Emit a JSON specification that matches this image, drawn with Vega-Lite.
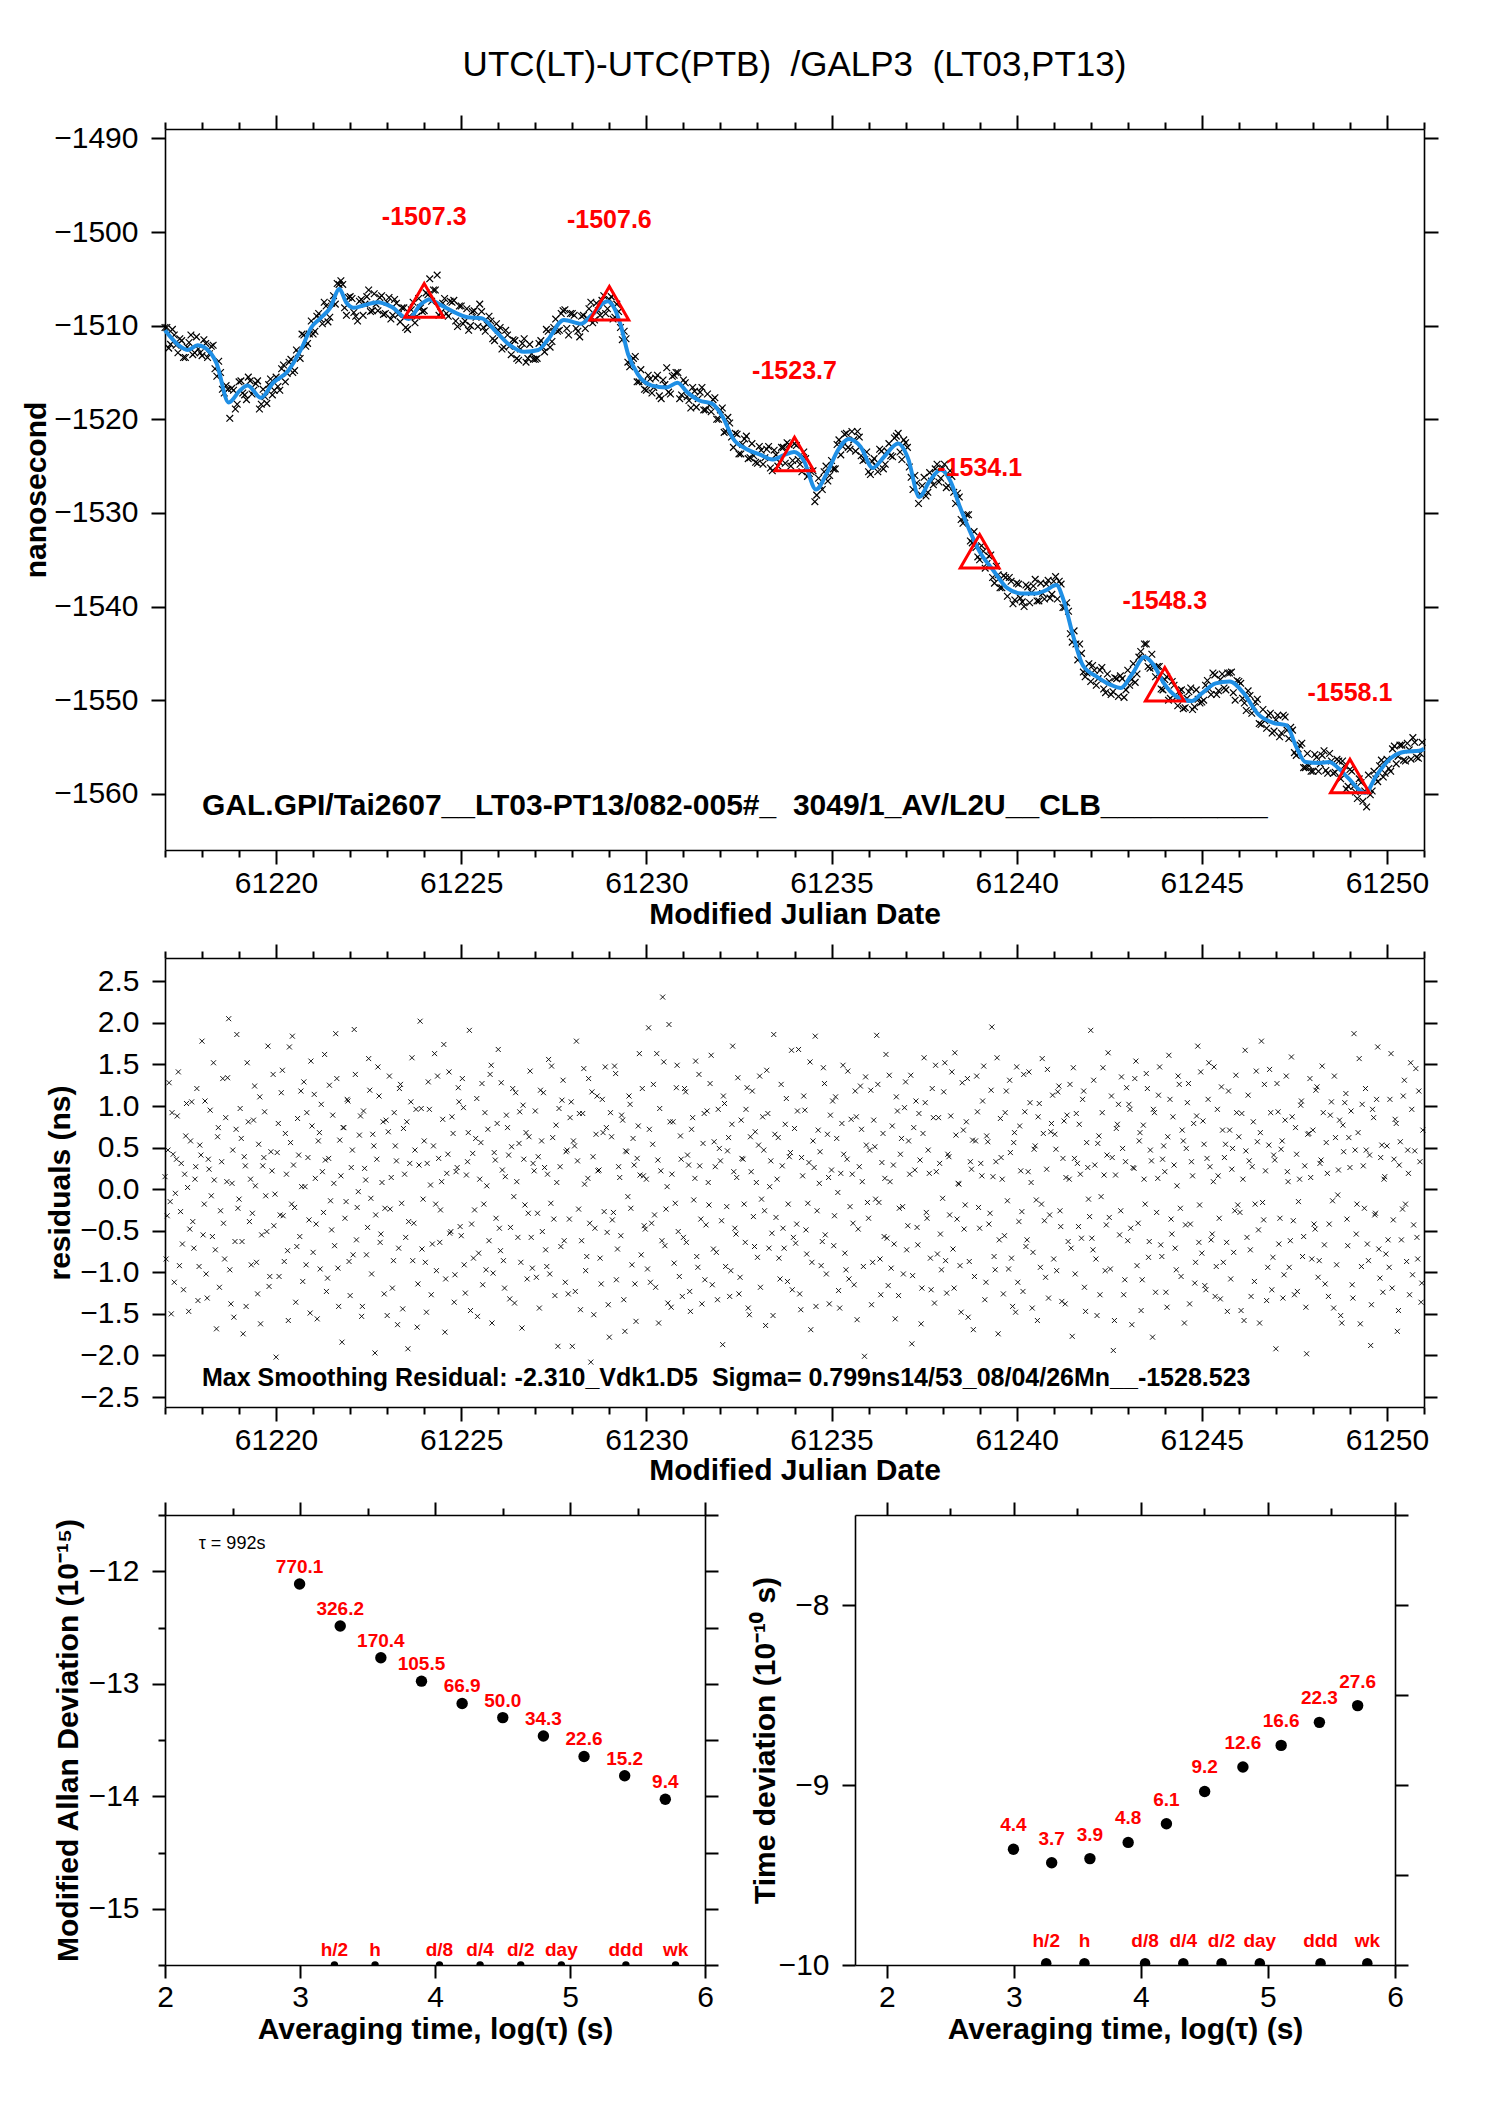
{
  "$schema": "https://vega.github.io/schema/vega-lite/v6.json",
  "background": "white",
  "padding": {"left": 21, "top": 48, "right": 10, "bottom": 10},
  "bounds": "flush",
  "spacing": 108,
  "config": {
    "font": "Liberation Sans",
    "view": {"stroke": null},
    "axis": {
      "grid": false,
      "domainColor": "#000",
      "domainWidth": 1.6,
      "tickColor": "#000",
      "tickWidth": 2,
      "labelFont": "Liberation Sans",
      "labelFontSize": 30,
      "labelColor": "#000",
      "labelFlush": false,
      "labelOverlap": false,
      "titleFont": "Liberation Sans",
      "titleFontSize": 30,
      "titleFontWeight": "bold",
      "titleColor": "#000"
    }
  },
  "datasets": {
    "smooth": [
      {"t":61217.0,"v":-1510.5},{"t":61217.37,"v":-1512.1},{"t":61217.62,"v":-1512.6},{"t":61217.88,"v":-1512.1},{"t":61218.06,"v":-1512.3},{"t":61218.39,"v":-1514.0},{"t":61218.72,"v":-1518.2},{"t":61219.03,"v":-1516.9},{"t":61219.23,"v":-1516.4},{"t":61219.59,"v":-1517.7},{"t":61219.92,"v":-1516.1},{"t":61220.31,"v":-1514.9},{"t":61220.69,"v":-1512.4},{"t":61220.95,"v":-1510.2},{"t":61221.2,"v":-1509.2},{"t":61221.46,"v":-1508.1},{"t":61221.71,"v":-1506.1},{"t":61221.89,"v":-1507.5},{"t":61222.1,"v":-1508.1},{"t":61222.4,"v":-1507.8},{"t":61222.74,"v":-1507.5},{"t":61223.12,"v":-1508.0},{"t":61223.58,"v":-1509.3},{"t":61223.89,"v":-1507.8},{"t":61224.14,"v":-1507.2},{"t":61224.4,"v":-1507.7},{"t":61224.78,"v":-1508.5},{"t":61225.17,"v":-1509.1},{"t":61225.55,"v":-1509.2},{"t":61225.93,"v":-1510.6},{"t":61226.32,"v":-1512.1},{"t":61226.7,"v":-1512.8},{"t":61227.08,"v":-1512.6},{"t":61227.34,"v":-1511.5},{"t":61227.77,"v":-1509.4},{"t":61228.24,"v":-1509.8},{"t":61228.54,"v":-1508.8},{"t":61228.95,"v":-1507.4},{"t":61229.13,"v":-1508.1},{"t":61229.31,"v":-1510.0},{"t":61229.51,"v":-1513.1},{"t":61229.77,"v":-1515.2},{"t":61230.15,"v":-1516.4},{"t":61230.54,"v":-1516.6},{"t":61230.84,"v":-1516.1},{"t":61231.1,"v":-1517.1},{"t":61231.43,"v":-1518.0},{"t":61231.76,"v":-1518.3},{"t":61232.07,"v":-1519.8},{"t":61232.33,"v":-1522.0},{"t":61232.71,"v":-1523.2},{"t":61233.09,"v":-1523.8},{"t":61233.4,"v":-1524.3},{"t":61233.73,"v":-1523.8},{"t":61233.99,"v":-1523.5},{"t":61234.25,"v":-1524.4},{"t":61234.58,"v":-1527.5},{"t":61234.88,"v":-1525.7},{"t":61235.19,"v":-1523.2},{"t":61235.47,"v":-1522.1},{"t":61235.78,"v":-1522.9},{"t":61236.11,"v":-1525.2},{"t":61236.42,"v":-1524.0},{"t":61236.8,"v":-1522.6},{"t":61237.06,"v":-1524.1},{"t":61237.37,"v":-1528.3},{"t":61237.65,"v":-1526.6},{"t":61237.95,"v":-1525.4},{"t":61238.21,"v":-1526.6},{"t":61238.47,"v":-1529.4},{"t":61238.72,"v":-1531.8},{"t":61238.98,"v":-1534.0},{"t":61239.36,"v":-1536.1},{"t":61239.74,"v":-1538.0},{"t":61240.13,"v":-1538.6},{"t":61240.51,"v":-1538.6},{"t":61240.77,"v":-1538.3},{"t":61241.07,"v":-1537.7},{"t":61241.28,"v":-1539.5},{"t":61241.53,"v":-1543.2},{"t":61241.79,"v":-1546.3},{"t":61242.17,"v":-1547.5},{"t":61242.56,"v":-1548.4},{"t":61242.81,"v":-1548.7},{"t":61243.12,"v":-1547.2},{"t":61243.45,"v":-1545.4},{"t":61243.71,"v":-1546.3},{"t":61243.96,"v":-1548.1},{"t":61244.35,"v":-1549.7},{"t":61244.73,"v":-1550.1},{"t":61244.99,"v":-1549.3},{"t":61245.37,"v":-1548.2},{"t":61245.75,"v":-1548.0},{"t":61246.14,"v":-1549.3},{"t":61246.52,"v":-1551.5},{"t":61246.91,"v":-1552.4},{"t":61247.29,"v":-1552.7},{"t":61247.54,"v":-1554.9},{"t":61247.8,"v":-1556.6},{"t":61248.18,"v":-1556.7},{"t":61248.44,"v":-1556.6},{"t":61248.7,"v":-1557.3},{"t":61248.95,"v":-1558.3},{"t":61249.41,"v":-1559.9},{"t":61249.72,"v":-1558.0},{"t":61250.1,"v":-1556.2},{"t":61250.49,"v":-1555.5},{"t":61250.87,"v":-1555.4},{"t":61251.0,"v":-1555.2}
    ],
    "raw": [
      {"t":61217.05,"v":-1510.2},{"t":61217.15,"v":-1512.0},{"t":61217.25,"v":-1511.0},{"t":61217.35,"v":-1512.9},{"t":61217.45,"v":-1511.6},{"t":61217.55,"v":-1513.4},{"t":61217.65,"v":-1511.8},{"t":61217.75,"v":-1513.1},{"t":61217.85,"v":-1511.2},{"t":61217.95,"v":-1512.9},
      {"t":61218.05,"v":-1511.5},{"t":61218.15,"v":-1513.4},{"t":61218.25,"v":-1512.2},{"t":61218.35,"v":-1514.6},{"t":61218.45,"v":-1513.8},{"t":61218.55,"v":-1516.8},{"t":61218.65,"v":-1516.4},{"t":61218.75,"v":-1519.9},{"t":61218.85,"v":-1516.9},{"t":61218.95,"v":-1518.4},
      {"t":61219.05,"v":-1515.9},{"t":61219.15,"v":-1517.4},{"t":61219.25,"v":-1515.5},{"t":61219.35,"v":-1517.3},{"t":61219.45,"v":-1516.2},{"t":61219.55,"v":-1518.9},{"t":61219.65,"v":-1516.8},{"t":61219.75,"v":-1518.3},{"t":61219.85,"v":-1515.7},{"t":61219.95,"v":-1516.9},
      {"t":61220.05,"v":-1516.5},{"t":61220.15,"v":-1514.6},{"t":61220.25,"v":-1516.0},{"t":61220.35,"v":-1513.9},{"t":61220.45,"v":-1515.0},{"t":61220.55,"v":-1512.6},{"t":61220.65,"v":-1513.5},{"t":61220.75,"v":-1511.0},{"t":61220.85,"v":-1511.9},{"t":61220.95,"v":-1509.5},
      {"t":61221.05,"v":-1510.6},{"t":61221.15,"v":-1508.7},{"t":61221.25,"v":-1509.8},{"t":61221.35,"v":-1507.9},{"t":61221.45,"v":-1509.1},{"t":61221.55,"v":-1506.8},{"t":61221.65,"v":-1505.5},{"t":61221.75,"v":-1505.2},{"t":61221.85,"v":-1508.1},{"t":61221.95,"v":-1507.0},
      {"t":61222.05,"v":-1507.1},{"t":61222.15,"v":-1509.0},{"t":61222.25,"v":-1507.4},{"t":61222.35,"v":-1508.9},{"t":61222.45,"v":-1506.9},{"t":61222.55,"v":-1508.5},{"t":61222.65,"v":-1506.6},{"t":61222.75,"v":-1508.4},{"t":61222.85,"v":-1506.8},{"t":61222.95,"v":-1508.7},
      {"t":61223.05,"v":-1507.0},{"t":61223.15,"v":-1508.9},{"t":61223.25,"v":-1507.6},{"t":61223.35,"v":-1509.6},{"t":61223.45,"v":-1508.1},{"t":61223.55,"v":-1510.4},{"t":61223.65,"v":-1508.3},{"t":61223.75,"v":-1509.7},{"t":61223.85,"v":-1507.1},{"t":61223.95,"v":-1508.5},
      {"t":61224.05,"v":-1506.5},{"t":61224.15,"v":-1505.0},{"t":61224.25,"v":-1506.2},{"t":61224.35,"v":-1504.6},{"t":61224.45,"v":-1508.6},{"t":61224.55,"v":-1507.1},{"t":61224.65,"v":-1509.0},{"t":61224.75,"v":-1507.5},{"t":61224.85,"v":-1509.5},{"t":61224.95,"v":-1507.9},
      {"t":61225.05,"v":-1509.8},{"t":61225.15,"v":-1508.2},{"t":61225.25,"v":-1510.0},{"t":61225.35,"v":-1508.4},{"t":61225.45,"v":-1510.1},{"t":61225.55,"v":-1508.5},{"t":61225.65,"v":-1510.6},{"t":61225.75,"v":-1509.0},{"t":61225.85,"v":-1511.4},{"t":61225.95,"v":-1509.8},
      {"t":61226.05,"v":-1510.2},{"t":61226.15,"v":-1512.3},{"t":61226.25,"v":-1511.0},{"t":61226.35,"v":-1513.1},{"t":61226.45,"v":-1511.6},{"t":61226.55,"v":-1513.7},{"t":61226.65,"v":-1511.9},{"t":61226.75,"v":-1513.9},{"t":61226.85,"v":-1512.0},{"t":61226.95,"v":-1513.6},
      {"t":61227.05,"v":-1513.5},{"t":61227.15,"v":-1511.6},{"t":61227.25,"v":-1512.8},{"t":61227.35,"v":-1510.6},{"t":61227.45,"v":-1511.7},{"t":61227.55,"v":-1509.3},{"t":61227.65,"v":-1510.5},{"t":61227.75,"v":-1508.4},{"t":61227.85,"v":-1510.3},{"t":61227.95,"v":-1508.7},
      {"t":61228.05,"v":-1508.9},{"t":61228.15,"v":-1510.6},{"t":61228.25,"v":-1509.0},{"t":61228.35,"v":-1510.3},{"t":61228.45,"v":-1508.2},{"t":61228.55,"v":-1509.7},{"t":61228.65,"v":-1507.6},{"t":61228.75,"v":-1508.9},{"t":61228.85,"v":-1506.8},{"t":61228.95,"v":-1508.2},
      {"t":61229.05,"v":-1506.9},{"t":61229.15,"v":-1509.1},{"t":61229.25,"v":-1508.5},{"t":61229.35,"v":-1511.5},{"t":61229.45,"v":-1511.4},{"t":61229.55,"v":-1514.4},{"t":61229.65,"v":-1513.5},{"t":61229.75,"v":-1516.0},{"t":61229.85,"v":-1514.7},{"t":61229.95,"v":-1516.8},
      {"t":61230.05,"v":-1515.3},{"t":61230.15,"v":-1517.2},{"t":61230.25,"v":-1515.6},{"t":61230.35,"v":-1517.5},{"t":61230.45,"v":-1515.8},{"t":61230.55,"v":-1514.5},{"t":61230.65,"v":-1517.3},{"t":61230.75,"v":-1515.3},{"t":61230.85,"v":-1515.0},{"t":61230.95,"v":-1517.4},
      {"t":61231.05,"v":-1516.1},{"t":61231.15,"v":-1518.0},{"t":61231.25,"v":-1516.6},{"t":61231.35,"v":-1518.7},{"t":61231.45,"v":-1517.1},{"t":61231.55,"v":-1519.0},{"t":61231.65,"v":-1517.3},{"t":61231.75,"v":-1519.2},{"t":61231.85,"v":-1517.7},{"t":61231.95,"v":-1520.0},
      {"t":61232.05,"v":-1518.8},{"t":61232.15,"v":-1521.3},{"t":61232.25,"v":-1520.4},{"t":61232.35,"v":-1523.0},{"t":61232.45,"v":-1521.6},{"t":61232.55,"v":-1523.7},{"t":61232.65,"v":-1522.1},{"t":61232.75,"v":-1524.2},{"t":61232.85,"v":-1522.6},{"t":61232.95,"v":-1524.6},
      {"t":61233.05,"v":-1522.9},{"t":61233.15,"v":-1524.8},{"t":61233.25,"v":-1523.2},{"t":61233.35,"v":-1525.2},{"t":61233.45,"v":-1523.3},{"t":61233.55,"v":-1525.0},{"t":61233.65,"v":-1523.0},{"t":61233.75,"v":-1524.7},{"t":61233.85,"v":-1522.7},{"t":61233.95,"v":-1524.4},
      {"t":61234.05,"v":-1522.8},{"t":61234.15,"v":-1524.8},{"t":61234.25,"v":-1523.5},{"t":61234.35,"v":-1526.1},{"t":61234.45,"v":-1525.6},{"t":61234.55,"v":-1528.8},{"t":61234.65,"v":-1526.3},{"t":61234.75,"v":-1527.5},{"t":61234.85,"v":-1525.0},{"t":61234.95,"v":-1526.0},
      {"t":61235.05,"v":-1525.3},{"t":61235.15,"v":-1522.7},{"t":61235.25,"v":-1523.8},{"t":61235.35,"v":-1521.6},{"t":61235.45,"v":-1523.0},{"t":61235.55,"v":-1521.3},{"t":61235.65,"v":-1523.4},{"t":61235.75,"v":-1521.9},{"t":61235.85,"v":-1524.4},{"t":61235.95,"v":-1523.5},
      {"t":61236.05,"v":-1525.9},{"t":61236.15,"v":-1524.2},{"t":61236.25,"v":-1525.6},{"t":61236.35,"v":-1523.4},{"t":61236.45,"v":-1524.8},{"t":61236.55,"v":-1522.6},{"t":61236.65,"v":-1524.0},{"t":61236.75,"v":-1521.8},{"t":61236.85,"v":-1523.5},{"t":61236.95,"v":-1522.2},
      {"t":61237.05,"v":-1523.0},{"t":61237.15,"v":-1526.2},{"t":61237.25,"v":-1526.0},{"t":61237.35,"v":-1529.0},{"t":61237.45,"v":-1527.1},{"t":61237.55,"v":-1528.2},{"t":61237.65,"v":-1525.7},{"t":61237.75,"v":-1527.0},{"t":61237.85,"v":-1524.8},{"t":61237.95,"v":-1526.3},
      {"t":61238.05,"v":-1524.8},{"t":61238.15,"v":-1527.1},{"t":61238.25,"v":-1526.1},{"t":61238.35,"v":-1529.0},{"t":61238.45,"v":-1528.3},{"t":61238.55,"v":-1531.1},{"t":61238.65,"v":-1530.2},{"t":61238.75,"v":-1533.0},{"t":61238.85,"v":-1532.0},{"t":61238.95,"v":-1534.7},
      {"t":61239.05,"v":-1533.5},{"t":61239.15,"v":-1535.9},{"t":61239.25,"v":-1534.6},{"t":61239.35,"v":-1536.9},{"t":61239.45,"v":-1535.7},{"t":61239.55,"v":-1538.0},{"t":61239.65,"v":-1536.7},{"t":61239.75,"v":-1538.9},{"t":61239.85,"v":-1537.3},{"t":61239.95,"v":-1539.3},
      {"t":61240.05,"v":-1537.6},{"t":61240.15,"v":-1539.5},{"t":61240.25,"v":-1537.7},{"t":61240.35,"v":-1539.6},{"t":61240.45,"v":-1537.8},{"t":61240.55,"v":-1539.4},{"t":61240.65,"v":-1537.5},{"t":61240.75,"v":-1539.2},{"t":61240.85,"v":-1537.2},{"t":61240.95,"v":-1538.7},
      {"t":61241.05,"v":-1536.8},{"t":61241.15,"v":-1537.3},{"t":61241.25,"v":-1540.1},{"t":61241.35,"v":-1539.6},{"t":61241.45,"v":-1542.9},{"t":61241.55,"v":-1542.6},{"t":61241.65,"v":-1545.7},{"t":61241.75,"v":-1545.0},{"t":61241.85,"v":-1547.5},{"t":61241.95,"v":-1546.1},
      {"t":61242.05,"v":-1546.3},{"t":61242.15,"v":-1548.4},{"t":61242.25,"v":-1546.8},{"t":61242.35,"v":-1548.8},{"t":61242.45,"v":-1547.2},{"t":61242.55,"v":-1549.4},{"t":61242.65,"v":-1547.6},{"t":61242.75,"v":-1549.6},{"t":61242.85,"v":-1547.7},{"t":61242.95,"v":-1548.9},
      {"t":61243.05,"v":-1548.4},{"t":61243.15,"v":-1546.1},{"t":61243.25,"v":-1547.2},{"t":61243.35,"v":-1544.8},{"t":61243.45,"v":-1544.0},{"t":61243.55,"v":-1546.4},{"t":61243.65,"v":-1545.1},{"t":61243.75,"v":-1547.5},{"t":61243.85,"v":-1546.4},{"t":61243.95,"v":-1548.9},
      {"t":61244.05,"v":-1547.5},{"t":61244.15,"v":-1549.8},{"t":61244.25,"v":-1548.4},{"t":61244.35,"v":-1550.6},{"t":61244.45,"v":-1548.9},{"t":61244.55,"v":-1550.8},{"t":61244.65,"v":-1549.1},{"t":61244.75,"v":-1551.0},{"t":61244.85,"v":-1548.9},{"t":61244.95,"v":-1550.3},
      {"t":61245.05,"v":-1550.0},{"t":61245.15,"v":-1547.9},{"t":61245.25,"v":-1549.4},{"t":61245.35,"v":-1547.3},{"t":61245.45,"v":-1549.0},{"t":61245.55,"v":-1547.2},{"t":61245.65,"v":-1548.9},{"t":61245.75,"v":-1547.1},{"t":61245.85,"v":-1549.2},{"t":61245.95,"v":-1547.9},
      {"t":61246.05,"v":-1548.2},{"t":61246.15,"v":-1550.3},{"t":61246.25,"v":-1549.0},{"t":61246.35,"v":-1551.4},{"t":61246.45,"v":-1550.2},{"t":61246.55,"v":-1552.5},{"t":61246.65,"v":-1551.0},{"t":61246.75,"v":-1553.0},{"t":61246.85,"v":-1551.4},{"t":61246.95,"v":-1553.3},
      {"t":61247.05,"v":-1551.6},{"t":61247.15,"v":-1553.5},{"t":61247.25,"v":-1551.8},{"t":61247.35,"v":-1554.1},{"t":61247.45,"v":-1553.2},{"t":61247.55,"v":-1555.9},{"t":61247.65,"v":-1554.8},{"t":61247.75,"v":-1557.2},{"t":61247.85,"v":-1555.7},{"t":61247.95,"v":-1557.6},
      {"t":61248.05,"v":-1555.8},{"t":61248.15,"v":-1557.6},{"t":61248.25,"v":-1555.9},{"t":61248.35,"v":-1557.5},{"t":61248.45,"v":-1555.7},{"t":61248.55,"v":-1557.8},{"t":61248.65,"v":-1556.3},{"t":61248.75,"v":-1558.4},{"t":61248.85,"v":-1557.0},{"t":61248.95,"v":-1559.2},
      {"t":61249.05,"v":-1557.6},{"t":61249.15,"v":-1559.8},{"t":61249.25,"v":-1558.4},{"t":61249.35,"v":-1560.8},{"t":61249.45,"v":-1561.4},{"t":61249.55,"v":-1560.1},{"t":61249.65,"v":-1557.6},{"t":61249.75,"v":-1558.7},{"t":61249.85,"v":-1556.4},{"t":61249.95,"v":-1557.8},
      {"t":61250.05,"v":-1557.3},{"t":61250.15,"v":-1555.2},{"t":61250.25,"v":-1556.8},{"t":61250.35,"v":-1554.8},{"t":61250.45,"v":-1556.4},{"t":61250.55,"v":-1554.6},{"t":61250.65,"v":-1556.3},{"t":61250.75,"v":-1554.5},{"t":61250.85,"v":-1556.2},{"t":61250.95,"v":-1554.5},
      {"t":61217.0,"v":-1510.2},{"t":61217.1,"v":-1512.4},{"t":61217.2,"v":-1510.4},{"t":61217.3,"v":-1512.1},{"t":61217.4,"v":-1511.4},{"t":61217.5,"v":-1513.4},{"t":61217.6,"v":-1512.3},{"t":61217.7,"v":-1511.0},{"t":61217.8,"v":-1512.9},{"t":61217.9,"v":-1512.5},
      {"t":61218.0,"v":-1513.2},{"t":61218.1,"v":-1511.9},{"t":61218.2,"v":-1513.0},{"t":61218.3,"v":-1512.1},{"t":61218.4,"v":-1515.4},{"t":61218.5,"v":-1515.0},{"t":61218.6,"v":-1517.2},{"t":61218.7,"v":-1516.8},{"t":61218.8,"v":-1516.7},{"t":61218.9,"v":-1518.9},
      {"t":61219.0,"v":-1516.0},{"t":61219.1,"v":-1517.2},{"t":61219.2,"v":-1517.9},{"t":61219.3,"v":-1515.9},{"t":61219.4,"v":-1516.9},{"t":61219.5,"v":-1515.9},{"t":61219.6,"v":-1518.4},{"t":61219.7,"v":-1517.6},{"t":61219.8,"v":-1516.3},{"t":61219.9,"v":-1517.4},
      {"t":61220.0,"v":-1515.5},{"t":61220.1,"v":-1516.9},{"t":61220.2,"v":-1514.2},{"t":61220.3,"v":-1515.1},{"t":61220.4,"v":-1513.6},{"t":61220.5,"v":-1514.8},{"t":61220.6,"v":-1512.9},{"t":61220.7,"v":-1510.9},{"t":61220.8,"v":-1512.2},{"t":61220.9,"v":-1510.9},
      {"t":61221.0,"v":-1510.9},{"t":61221.1,"v":-1509.0},{"t":61221.2,"v":-1509.3},{"t":61221.3,"v":-1507.5},{"t":61221.4,"v":-1509.6},{"t":61221.5,"v":-1507.6},{"t":61221.6,"v":-1507.7},{"t":61221.7,"v":-1505.6},{"t":61221.8,"v":-1505.6},{"t":61221.9,"v":-1508.9},
      {"t":61222.0,"v":-1506.9},{"t":61222.1,"v":-1508.6},{"t":61222.2,"v":-1509.5},{"t":61222.3,"v":-1507.2},{"t":61222.4,"v":-1507.7},{"t":61222.5,"v":-1506.2},{"t":61222.6,"v":-1508.4},{"t":61222.7,"v":-1507.7},{"t":61222.8,"v":-1507.0},{"t":61222.9,"v":-1508.8},
      {"t":61223.0,"v":-1507.5},{"t":61223.1,"v":-1509.3},{"t":61223.2,"v":-1507.2},{"t":61223.3,"v":-1508.8},{"t":61223.4,"v":-1508.1},{"t":61223.5,"v":-1510.2},{"t":61223.6,"v":-1509.0},{"t":61223.7,"v":-1507.5},{"t":61223.8,"v":-1509.0},{"t":61223.9,"v":-1508.1},
      {"t":61224.0,"v":-1508.4},{"t":61224.1,"v":-1506.7},{"t":61224.2,"v":-1507.4},{"t":61224.3,"v":-1506.2},{"t":61224.4,"v":-1508.9},{"t":61224.5,"v":-1507.6},{"t":61224.6,"v":-1508.7},{"t":61224.7,"v":-1507.4},{"t":61224.8,"v":-1507.3},{"t":61224.9,"v":-1510.1},
      {"t":61225.0,"v":-1507.9},{"t":61225.1,"v":-1509.5},{"t":61225.2,"v":-1510.5},{"t":61225.3,"v":-1508.5},{"t":61225.4,"v":-1509.1},{"t":61225.5,"v":-1507.7},{"t":61225.6,"v":-1510.2},{"t":61225.7,"v":-1509.9},{"t":61225.8,"v":-1509.5},{"t":61225.9,"v":-1511.6},
      {"t":61226.0,"v":-1510.5},{"t":61226.1,"v":-1512.5},{"t":61226.2,"v":-1510.5},{"t":61226.3,"v":-1512.2},{"t":61226.4,"v":-1511.5},{"t":61226.5,"v":-1513.5},{"t":61226.6,"v":-1512.5},{"t":61226.7,"v":-1511.4},{"t":61226.8,"v":-1513.5},{"t":61226.9,"v":-1513.0},
      {"t":61227.0,"v":-1513.6},{"t":61227.1,"v":-1511.9},{"t":61227.2,"v":-1512.3},{"t":61227.3,"v":-1510.4},{"t":61227.4,"v":-1512.3},{"t":61227.5,"v":-1510.2},{"t":61227.6,"v":-1510.6},{"t":61227.7,"v":-1508.7},{"t":61227.8,"v":-1508.3},{"t":61227.9,"v":-1511.0},
      {"t":61228.0,"v":-1508.7},{"t":61228.1,"v":-1510.3},{"t":61228.2,"v":-1511.2},{"t":61228.3,"v":-1508.9},{"t":61228.4,"v":-1509.2},{"t":61228.5,"v":-1507.5},{"t":61228.6,"v":-1509.4},{"t":61228.7,"v":-1508.4},{"t":61228.8,"v":-1507.3},{"t":61228.9,"v":-1508.7},
      {"t":61229.0,"v":-1507.2},{"t":61229.1,"v":-1509.3},{"t":61229.2,"v":-1507.7},{"t":61229.3,"v":-1510.2},{"t":61229.4,"v":-1510.6},{"t":61229.5,"v":-1513.9},{"t":61229.6,"v":-1513.7},{"t":61229.7,"v":-1513.3},{"t":61229.8,"v":-1516.0},{"t":61229.9,"v":-1516.0},
      {"t":61230.0,"v":-1516.9},{"t":61230.1,"v":-1515.7},{"t":61230.2,"v":-1516.6},{"t":61230.3,"v":-1515.3},{"t":61230.4,"v":-1517.8},{"t":61230.5,"v":-1516.3},{"t":61230.6,"v":-1517.1},{"t":61230.7,"v":-1515.4},{"t":61230.8,"v":-1515.0},{"t":61230.9,"v":-1517.8},
      {"t":61231.0,"v":-1515.8},{"t":61231.1,"v":-1517.6},{"t":61231.2,"v":-1518.8},{"t":61231.3,"v":-1517.0},{"t":61231.4,"v":-1517.8},{"t":61231.5,"v":-1516.6},{"t":61231.6,"v":-1519.0},{"t":61231.7,"v":-1518.5},{"t":61231.8,"v":-1517.9},{"t":61231.9,"v":-1520.0},
      {"t":61232.0,"v":-1519.0},{"t":61232.1,"v":-1521.4},{"t":61232.2,"v":-1519.8},{"t":61232.3,"v":-1521.9},{"t":61232.4,"v":-1521.5},{"t":61232.5,"v":-1523.7},{"t":61232.6,"v":-1522.7},{"t":61232.7,"v":-1521.8},{"t":61232.8,"v":-1524.1},{"t":61232.9,"v":-1523.9},
      {"t":61233.0,"v":-1524.7},{"t":61233.1,"v":-1523.3},{"t":61233.2,"v":-1524.1},{"t":61233.3,"v":-1522.9},{"t":61233.4,"v":-1525.5},{"t":61233.5,"v":-1523.8},{"t":61233.6,"v":-1524.6},{"t":61233.7,"v":-1523.0},{"t":61233.8,"v":-1522.5},{"t":61233.9,"v":-1525.0},
      {"t":61234.0,"v":-1522.6},{"t":61234.1,"v":-1524.3},{"t":61234.2,"v":-1525.6},{"t":61234.3,"v":-1524.2},{"t":61234.4,"v":-1525.8},{"t":61234.5,"v":-1525.5},{"t":61234.6,"v":-1528.1},{"t":61234.7,"v":-1527.1},{"t":61234.8,"v":-1525.6},{"t":61234.9,"v":-1526.6},
      {"t":61235.0,"v":-1524.4},{"t":61235.1,"v":-1525.3},{"t":61235.2,"v":-1522.2},{"t":61235.3,"v":-1522.9},{"t":61235.4,"v":-1521.5},{"t":61235.5,"v":-1523.2},{"t":61235.6,"v":-1522.2},{"t":61235.7,"v":-1521.3},{"t":61235.8,"v":-1523.9},{"t":61235.9,"v":-1524.3},
      {"t":61236.0,"v":-1525.6},{"t":61236.1,"v":-1524.5},{"t":61236.2,"v":-1525.0},{"t":61236.3,"v":-1523.2},{"t":61236.4,"v":-1525.3},{"t":61236.5,"v":-1523.4},{"t":61236.6,"v":-1523.9},{"t":61236.7,"v":-1522.0},{"t":61236.8,"v":-1521.5},{"t":61236.9,"v":-1524.3},
      {"t":61237.0,"v":-1522.5},{"t":61237.1,"v":-1525.1},{"t":61237.2,"v":-1527.5},{"t":61237.3,"v":-1526.8},{"t":61237.4,"v":-1528.0},{"t":61237.5,"v":-1526.2},{"t":61237.6,"v":-1527.8},{"t":61237.7,"v":-1526.6},{"t":61237.8,"v":-1525.3},{"t":61237.9,"v":-1526.7},
      {"t":61238.0,"v":-1525.2},{"t":61238.1,"v":-1527.3},{"t":61238.2,"v":-1525.5},{"t":61238.3,"v":-1527.8},{"t":61238.4,"v":-1527.9},{"t":61238.5,"v":-1530.7},{"t":61238.6,"v":-1530.5},{"t":61238.7,"v":-1530.2},{"t":61238.8,"v":-1533.2},{"t":61238.9,"v":-1533.7},
      {"t":61239.0,"v":-1535.0},{"t":61239.1,"v":-1534.1},{"t":61239.2,"v":-1535.4},{"t":61239.3,"v":-1534.5},{"t":61239.4,"v":-1537.5},{"t":61239.5,"v":-1536.6},{"t":61239.6,"v":-1538.0},{"t":61239.7,"v":-1536.9},{"t":61239.8,"v":-1536.9},{"t":61239.9,"v":-1539.7},
      {"t":61240.0,"v":-1537.5},{"t":61240.1,"v":-1539.1},{"t":61240.2,"v":-1540.0},{"t":61240.3,"v":-1537.9},{"t":61240.4,"v":-1538.5},{"t":61240.5,"v":-1537.1},{"t":61240.6,"v":-1539.4},{"t":61240.7,"v":-1538.6},{"t":61240.8,"v":-1537.6},{"t":61240.9,"v":-1539.1},
      {"t":61241.0,"v":-1537.3},{"t":61241.1,"v":-1539.2},{"t":61241.2,"v":-1537.6},{"t":61241.3,"v":-1540.1},{"t":61241.4,"v":-1540.5},{"t":61241.5,"v":-1543.8},{"t":61241.6,"v":-1544.0},{"t":61241.7,"v":-1544.0},{"t":61241.8,"v":-1547.0},{"t":61241.9,"v":-1547.1},
      {"t":61242.0,"v":-1548.0},{"t":61242.1,"v":-1546.8},{"t":61242.2,"v":-1547.7},{"t":61242.3,"v":-1546.5},{"t":61242.4,"v":-1549.2},{"t":61242.5,"v":-1548.0},{"t":61242.6,"v":-1549.1},{"t":61242.7,"v":-1547.7},{"t":61242.8,"v":-1547.4},{"t":61242.9,"v":-1549.7},
      {"t":61243.0,"v":-1546.8},{"t":61243.1,"v":-1547.8},{"t":61243.2,"v":-1548.1},{"t":61243.3,"v":-1545.4},{"t":61243.4,"v":-1545.5},{"t":61243.5,"v":-1544.0},{"t":61243.6,"v":-1546.6},{"t":61243.7,"v":-1546.5},{"t":61243.8,"v":-1546.4},{"t":61243.9,"v":-1548.8},
      {"t":61244.0,"v":-1547.8},{"t":61244.1,"v":-1550.0},{"t":61244.2,"v":-1548.0},{"t":61244.3,"v":-1549.7},{"t":61244.4,"v":-1549.0},{"t":61244.5,"v":-1550.9},{"t":61244.6,"v":-1549.8},{"t":61244.7,"v":-1548.7},{"t":61244.8,"v":-1550.7},{"t":61244.9,"v":-1549.9},
      {"t":61245.0,"v":-1550.2},{"t":61245.1,"v":-1548.4},{"t":61245.2,"v":-1548.8},{"t":61245.3,"v":-1547.1},{"t":61245.4,"v":-1549.4},{"t":61245.5,"v":-1547.8},{"t":61245.6,"v":-1548.7},{"t":61245.7,"v":-1547.1},{"t":61245.8,"v":-1547.0},{"t":61245.9,"v":-1550.0},
      {"t":61246.0,"v":-1548.0},{"t":61246.1,"v":-1549.8},{"t":61246.2,"v":-1551.1},{"t":61246.3,"v":-1549.5},{"t":61246.4,"v":-1550.7},{"t":61246.5,"v":-1549.9},{"t":61246.6,"v":-1552.6},{"t":61246.7,"v":-1552.2},{"t":61246.8,"v":-1551.6},{"t":61246.9,"v":-1553.5},
      {"t":61247.0,"v":-1552.1},{"t":61247.1,"v":-1553.9},{"t":61247.2,"v":-1551.6},{"t":61247.3,"v":-1553.2},{"t":61247.4,"v":-1552.9},{"t":61247.5,"v":-1555.6},{"t":61247.6,"v":-1555.2},{"t":61247.7,"v":-1554.6},{"t":61247.8,"v":-1557.2},{"t":61247.9,"v":-1557.0},
      {"t":61248.0,"v":-1557.6},{"t":61248.1,"v":-1556.1},{"t":61248.2,"v":-1556.8},{"t":61248.3,"v":-1555.4},{"t":61248.4,"v":-1557.8},{"t":61248.5,"v":-1556.5},{"t":61248.6,"v":-1557.7},{"t":61248.7,"v":-1556.5},{"t":61248.8,"v":-1556.5},{"t":61248.9,"v":-1559.5},
      {"t":61249.0,"v":-1557.4},{"t":61249.1,"v":-1559.2},{"t":61249.2,"v":-1560.5},{"t":61249.3,"v":-1558.8},{"t":61249.4,"v":-1559.7},{"t":61249.5,"v":-1558.0},{"t":61249.6,"v":-1559.7},{"t":61249.7,"v":-1558.4},{"t":61249.8,"v":-1557.0},{"t":61249.9,"v":-1558.2},
      {"t":61250.0,"v":-1556.3},{"t":61250.1,"v":-1557.6},{"t":61250.2,"v":-1554.9},{"t":61250.3,"v":-1556.0},{"t":61250.4,"v":-1554.8},{"t":61250.5,"v":-1556.5},{"t":61250.6,"v":-1555.3},{"t":61250.7,"v":-1554.0},{"t":61250.8,"v":-1556.1},{"t":61250.9,"v":-1555.7}
    ],
    "peaks": [
      {"t":61224,"v":-1507.3,"lab":"-1507.3"},{"t":61229,"v":-1507.6,"lab":"-1507.6"},{"t":61234,"v":-1523.7,"lab":"-1523.7"},{"t":61239,"v":-1534.1,"lab":"-1534.1"},{"t":61244,"v":-1548.3,"lab":"-1548.3"},{"t":61249,"v":-1558.1,"lab":"-1558.1"}
    ],
    "gal": [
      {"t":61218,"v":-1561.3,"s":"GAL.GPI/Tai2607__LT03-PT13/082-005#_\u00a0 3049/1_AV/L2U__CLB__________"}
    ],
    "resid": [
      {"t":61217,"r":0.15},{"t":61217.06,"r":-0.32},{"t":61217.11,"r":1.28},{"t":61217.17,"r":-1.5},{"t":61217.22,"r":0.42},{"t":61217.28,"r":-0.05},{"t":61217.33,"r":0.88},{"t":61217.39,"r":-0.92},{"t":61217.44,"r":0.31},{"t":61217.5,"r":-1.21},{"t":61217.56,"r":0.64},{"t":61217.61,"r":0.02},{"t":61217.67,"r":-0.48},{"t":61217.72,"r":1.05},{"t":61217.78,"r":-0.71},{"t":61217.83,"r":0.27},{"t":61217.89,"r":-1.34},{"t":61217.94,"r":0.53},
      {"t":61218,"r":1.78},{"t":61218.06,"r":-0.18},{"t":61218.11,"r":-1.02},{"t":61218.17,"r":0.36},{"t":61218.22,"r":0.95},{"t":61218.28,"r":-0.57},{"t":61218.33,"r":0.11},{"t":61218.39,"r":-1.68},{"t":61218.44,"r":0.74},{"t":61218.5,"r":-0.26},{"t":61218.56,"r":1.33},{"t":61218.61,"r":-0.84},{"t":61218.67,"r":0.09},{"t":61218.72,"r":2.05},{"t":61218.78,"r":-1.38},{"t":61218.83,"r":0.47},{"t":61218.89,"r":-0.63},{"t":61218.94,"r":1.86},
      {"t":61219,"r":-0.12},{"t":61219.06,"r":0.61},{"t":61219.11,"r":-1.74},{"t":61219.17,"r":0.28},{"t":61219.22,"r":1.52},{"t":61219.28,"r":-0.39},{"t":61219.33,"r":-0.91},{"t":61219.39,"r":0.83},{"t":61219.44,"r":0.04},{"t":61219.5,"r":-1.26},{"t":61219.56,"r":1.11},{"t":61219.61,"r":-0.55},{"t":61219.67,"r":0.38},{"t":61219.72,"r":-0.08},{"t":61219.78,"r":1.72},{"t":61219.83,"r":-1.05},{"t":61219.89,"r":0.22},{"t":61219.94,"r":-0.44},
      {"t":61220,"r":-2.02},{"t":61220.06,"r":0.79},{"t":61220.11,"r":-0.31},{"t":61220.17,"r":1.43},{"t":61220.22,"r":-0.87},{"t":61220.28,"r":0.18},{"t":61220.33,"r":-1.58},{"t":61220.39,"r":0.56},{"t":61220.44,"r":1.84},{"t":61220.5,"r":-0.22},{"t":61220.56,"r":-0.69},{"t":61220.61,"r":0.41},{"t":61220.67,"r":1.18},{"t":61220.72,"r":-1.11},{"t":61220.78,"r":0.03},{"t":61220.83,"r":0.92},{"t":61220.89,"r":-0.37},{"t":61220.94,"r":1.54},
      {"t":61221,"r":-0.76},{"t":61221.06,"r":0.13},{"t":61221.11,"r":-1.56},{"t":61221.17,"r":0.68},{"t":61221.22,"r":1.02},{"t":61221.28,"r":-0.28},{"t":61221.33,"r":0.35},{"t":61221.39,"r":-1.07},{"t":61221.44,"r":1.25},{"t":61221.5,"r":-0.49},{"t":61221.56,"r":0.07},{"t":61221.61,"r":1.87},{"t":61221.67,"r":-0.95},{"t":61221.72,"r":0.59},{"t":61221.78,"r":-1.84},{"t":61221.83,"r":0.74},{"t":61221.89,"r":-0.15},{"t":61221.94,"r":1.06},
      {"t":61222,"r":-1.28},{"t":61222.06,"r":0.47},{"t":61222.11,"r":1.92},{"t":61222.17,"r":-0.61},{"t":61222.22,"r":-0.03},{"t":61222.28,"r":0.88},{"t":61222.33,"r":-1.41},{"t":61222.39,"r":0.25},{"t":61222.44,"r":-0.79},{"t":61222.5,"r":1.57},{"t":61222.56,"r":-0.11},{"t":61222.61,"r":0.66},{"t":61222.67,"r":-1.97},{"t":61222.72,"r":0.36},{"t":61222.78,"r":1.12},{"t":61222.83,"r":-0.54},{"t":61222.89,"r":0.81},{"t":61222.94,"r":-0.23},
      {"t":61223,"r":-1.52},{"t":61223.06,"r":1.36},{"t":61223.11,"r":0.14},{"t":61223.17,"r":-0.86},{"t":61223.22,"r":0.52},{"t":61223.28,"r":-1.63},{"t":61223.33,"r":1.21},{"t":61223.39,"r":-0.17},{"t":61223.44,"r":0.73},{"t":61223.5,"r":-0.58},{"t":61223.56,"r":-1.92},{"t":61223.61,"r":0.31},{"t":61223.67,"r":1.58},{"t":61223.72,"r":-0.41},{"t":61223.78,"r":0.96},{"t":61223.83,"r":-1.14},{"t":61223.89,"r":2.02},{"t":61223.94,"r":-0.72},
      {"t":61224,"r":0.58},{"t":61224.06,"r":-1.48},{"t":61224.11,"r":1.29},{"t":61224.17,"r":0.05},{"t":61224.22,"r":-0.66},{"t":61224.28,"r":1.63},{"t":61224.33,"r":-0.98},{"t":61224.39,"r":0.37},{"t":61224.44,"r":-0.25},{"t":61224.5,"r":0.84},{"t":61224.56,"r":-1.72},{"t":61224.61,"r":0.19},{"t":61224.67,"r":1.41},{"t":61224.72,"r":-0.51},{"t":61224.78,"r":0.67},{"t":61224.83,"r":-1.03},{"t":61224.89,"r":0.26},{"t":61224.94,"r":1.05},
      {"t":61225,"r":-0.56},{"t":61225.06,"r":0.98},{"t":61225.11,"r":-1.25},{"t":61225.17,"r":0.33},{"t":61225.22,"r":1.91},{"t":61225.28,"r":-0.42},{"t":61225.33,"r":-0.83},{"t":61225.39,"r":0.61},{"t":61225.44,"r":-1.53},{"t":61225.5,"r":0.12},{"t":61225.56,"r":1.27},{"t":61225.61,"r":-0.18},{"t":61225.67,"r":-0.97},{"t":61225.72,"r":0.72},{"t":61225.78,"r":1.38},{"t":61225.83,"r":-1.61},{"t":61225.89,"r":0.44},{"t":61225.94,"r":-0.35},
      {"t":61226,"r":1.68},{"t":61226.06,"r":-0.74},{"t":61226.11,"r":0.23},{"t":61226.17,"r":-1.19},{"t":61226.22,"r":0.89},{"t":61226.28,"r":0.41},{"t":61226.33,"r":-0.46},{"t":61226.39,"r":1.21},{"t":61226.44,"r":-1.37},{"t":61226.5,"r":0.09},{"t":61226.56,"r":0.55},{"t":61226.61,"r":-0.88},{"t":61226.67,"r":1.01},{"t":61226.72,"r":-0.19},{"t":61226.78,"r":-1.08},{"t":61226.83,"r":0.63},{"t":61226.89,"r":-0.58},{"t":61226.94,"r":0.31},
      {"t":61227,"r":0.94},{"t":61227.06,"r":-0.29},{"t":61227.11,"r":-1.43},{"t":61227.17,"r":0.58},{"t":61227.22,"r":1.16},{"t":61227.28,"r":-0.73},{"t":61227.33,"r":0.18},{"t":61227.39,"r":-1.02},{"t":61227.44,"r":1.48},{"t":61227.5,"r":-0.36},{"t":61227.56,"r":0.77},{"t":61227.61,"r":-1.89},{"t":61227.67,"r":0.27},{"t":61227.72,"r":1.07},{"t":61227.78,"r":-0.62},{"t":61227.83,"r":0.45},{"t":61227.89,"r":-1.26},{"t":61227.94,"r":0.86},
      {"t":61228,"r":-1.89},{"t":61228.06,"r":0.52},{"t":61228.11,"r":1.78},{"t":61228.17,"r":-0.24},{"t":61228.22,"r":-1.45},{"t":61228.28,"r":0.91},{"t":61228.33,"r":0.06},{"t":61228.39,"r":-0.81},{"t":61228.44,"r":1.33},{"t":61228.5,"r":-2.08},{"t":61228.56,"r":0.39},{"t":61228.61,"r":-0.47},{"t":61228.67,"r":1.12},{"t":61228.72,"r":0.23},{"t":61228.78,"r":-1.14},{"t":61228.83,"r":0.68},{"t":61228.89,"r":1.47},{"t":61228.94,"r":-0.52},
      {"t":61229,"r":-1.78},{"t":61229.06,"r":0.63},{"t":61229.11,"r":-0.28},{"t":61229.17,"r":1.39},{"t":61229.22,"r":-0.72},{"t":61229.28,"r":0.14},{"t":61229.33,"r":0.89},{"t":61229.39,"r":-1.33},{"t":61229.44,"r":0.46},{"t":61229.5,"r":-0.09},{"t":61229.56,"r":1.02},{"t":61229.61,"r":-0.91},{"t":61229.67,"r":0.29},{"t":61229.72,"r":-1.59},{"t":61229.78,"r":0.76},{"t":61229.83,"r":0.17},{"t":61229.89,"r":1.21},{"t":61229.94,"r":-0.44},
      {"t":61230,"r":0.12},{"t":61230.06,"r":1.94},{"t":61230.11,"r":-1.12},{"t":61230.17,"r":0.54},{"t":61230.22,"r":-0.31},{"t":61230.28,"r":1.63},{"t":61230.33,"r":-1.61},{"t":61230.39,"r":0.22},{"t":61230.44,"r":2.31},{"t":61230.5,"r":-0.68},{"t":61230.56,"r":0.03},{"t":61230.61,"r":1.98},{"t":61230.67,"r":-1.42},{"t":61230.72,"r":0.81},{"t":61230.78,"r":-0.17},{"t":61230.83,"r":1.49},{"t":61230.89,"r":-1.05},{"t":61230.94,"r":0.36},
      {"t":61231,"r":-0.58},{"t":61231.06,"r":1.17},{"t":61231.11,"r":0.41},{"t":61231.17,"r":-1.23},{"t":61231.22,"r":0.72},{"t":61231.28,"r":-0.13},{"t":61231.33,"r":1.54},{"t":61231.39,"r":-0.94},{"t":61231.44,"r":0.28},{"t":61231.5,"r":-1.38},{"t":61231.56,"r":0.91},{"t":61231.61,"r":-0.43},{"t":61231.67,"r":0.08},{"t":61231.72,"r":1.27},{"t":61231.78,"r":-1.15},{"t":61231.83,"r":0.57},{"t":61231.89,"r":-0.76},{"t":61231.94,"r":0.96},
      {"t":61232,"r":0.34},{"t":61232.06,"r":-1.87},{"t":61232.11,"r":1.03},{"t":61232.17,"r":-0.21},{"t":61232.22,"r":0.62},{"t":61232.28,"r":-0.98},{"t":61232.33,"r":1.72},{"t":61232.39,"r":-0.47},{"t":61232.44,"r":0.14},{"t":61232.5,"r":-1.26},{"t":61232.56,"r":0.83},{"t":61232.61,"r":0.36},{"t":61232.67,"r":-0.64},{"t":61232.72,"r":1.22},{"t":61232.78,"r":-1.51},{"t":61232.83,"r":0.21},{"t":61232.89,"r":-0.33},{"t":61232.94,"r":0.69},
      {"t":61233,"r":-0.82},{"t":61233.06,"r":1.36},{"t":61233.11,"r":-0.12},{"t":61233.17,"r":0.47},{"t":61233.22,"r":-1.64},{"t":61233.28,"r":0.91},{"t":61233.33,"r":0.03},{"t":61233.39,"r":-0.53},{"t":61233.44,"r":1.86},{"t":61233.5,"r":-0.34},{"t":61233.56,"r":0.62},{"t":61233.61,"r":-1.08},{"t":61233.67,"r":0.28},{"t":61233.72,"r":-0.71},{"t":61233.78,"r":1.09},{"t":61233.83,"r":-0.18},{"t":61233.89,"r":0.44},{"t":61233.94,"r":-1.21},
      {"t":61234,"r":0.73},{"t":61234.06,"r":-0.42},{"t":61234.11,"r":1.68},{"t":61234.17,"r":-1.45},{"t":61234.22,"r":0.16},{"t":61234.28,"r":0.95},{"t":61234.33,"r":-0.78},{"t":61234.39,"r":0.32},{"t":61234.44,"r":-1.69},{"t":61234.5,"r":0.58},{"t":61234.56,"r":1.84},{"t":61234.61,"r":-0.26},{"t":61234.67,"r":0.07},{"t":61234.72,"r":-0.92},{"t":61234.78,"r":1.46},{"t":61234.83,"r":-0.55},{"t":61234.89,"r":0.66},{"t":61234.94,"r":-1.38},
      {"t":61235,"r":0.23},{"t":61235.06,"r":-0.68},{"t":61235.11,"r":1.11},{"t":61235.17,"r":-0.04},{"t":61235.22,"r":-1.43},{"t":61235.28,"r":0.79},{"t":61235.33,"r":0.42},{"t":61235.39,"r":-0.97},{"t":61235.44,"r":1.42},{"t":61235.5,"r":-0.21},{"t":61235.56,"r":0.18},{"t":61235.61,"r":-1.15},{"t":61235.67,"r":0.87},{"t":61235.72,"r":-0.48},{"t":61235.78,"r":1.24},{"t":61235.83,"r":0.09},{"t":61235.89,"r":-2.01},{"t":61235.94,"r":0.53},
      {"t":61236,"r":-0.35},{"t":61236.06,"r":1.19},{"t":61236.11,"r":-0.88},{"t":61236.17,"r":0.51},{"t":61236.22,"r":1.85},{"t":61236.28,"r":-0.16},{"t":61236.33,"r":-1.27},{"t":61236.39,"r":0.67},{"t":61236.44,"r":0.13},{"t":61236.5,"r":-0.59},{"t":61236.56,"r":1.37},{"t":61236.61,"r":-0.95},{"t":61236.67,"r":0.29},{"t":61236.72,"r":-1.56},{"t":61236.78,"r":0.94},{"t":61236.83,"r":-0.23},{"t":61236.89,"r":0.61},{"t":61236.94,"r":-1.02},
      {"t":61237,"r":1.29},{"t":61237.06,"r":-0.44},{"t":61237.11,"r":0.18},{"t":61237.17,"r":-1.86},{"t":61237.22,"r":0.74},{"t":61237.28,"r":1.06},{"t":61237.33,"r":-0.67},{"t":61237.39,"r":0.35},{"t":61237.44,"r":-1.19},{"t":61237.5,"r":1.58},{"t":61237.56,"r":-0.28},{"t":61237.61,"r":0.47},{"t":61237.67,"r":-0.83},{"t":61237.72,"r":1.21},{"t":61237.78,"r":-1.37},{"t":61237.83,"r":0.21},{"t":61237.89,"r":0.86},{"t":61237.94,"r":-0.54},
      {"t":61238,"r":-0.11},{"t":61238.06,"r":1.52},{"t":61238.11,"r":-1.25},{"t":61238.17,"r":0.39},{"t":61238.22,"r":0.88},{"t":61238.28,"r":-0.72},{"t":61238.33,"r":1.64},{"t":61238.39,"r":-0.36},{"t":61238.44,"r":0.06},{"t":61238.5,"r":-1.48},{"t":61238.56,"r":0.71},{"t":61238.61,"r":-0.19},{"t":61238.67,"r":1.33},{"t":61238.72,"r":-0.87},{"t":61238.78,"r":0.24},{"t":61238.83,"r":-1.69},{"t":61238.89,"r":0.58},{"t":61238.94,"r":0.93},
      {"t":61239,"r":-0.47},{"t":61239.06,"r":0.16},{"t":61239.11,"r":1.48},{"t":61239.17,"r":-1.12},{"t":61239.22,"r":0.57},{"t":61239.28,"r":-0.29},{"t":61239.33,"r":1.95},{"t":61239.39,"r":-0.81},{"t":61239.44,"r":0.33},{"t":61239.5,"r":-1.74},{"t":61239.56,"r":0.85},{"t":61239.61,"r":0.12},{"t":61239.67,"r":-0.56},{"t":61239.72,"r":1.18},{"t":61239.78,"r":-0.96},{"t":61239.83,"r":0.44},{"t":61239.89,"r":-1.41},{"t":61239.94,"r":0.68},
      {"t":61240,"r":1.47},{"t":61240.06,"r":-0.39},{"t":61240.11,"r":0.22},{"t":61240.17,"r":-1.23},{"t":61240.22,"r":0.93},{"t":61240.28,"r":-0.61},{"t":61240.33,"r":1.41},{"t":61240.39,"r":0.08},{"t":61240.44,"r":-0.76},{"t":61240.5,"r":0.52},{"t":61240.56,"r":-1.58},{"t":61240.61,"r":1.03},{"t":61240.67,"r":-0.18},{"t":61240.72,"r":0.67},{"t":61240.78,"r":-1.06},{"t":61240.83,"r":1.44},{"t":61240.89,"r":-0.31},{"t":61240.94,"r":0.79},
      {"t":61241,"r":-0.84},{"t":61241.06,"r":0.48},{"t":61241.11,"r":1.17},{"t":61241.17,"r":-0.26},{"t":61241.22,"r":-1.35},{"t":61241.28,"r":0.82},{"t":61241.33,"r":0.14},{"t":61241.39,"r":-0.63},{"t":61241.44,"r":1.26},{"t":61241.5,"r":-1.77},{"t":61241.56,"r":0.37},{"t":61241.61,"r":0.91},{"t":61241.67,"r":-0.45},{"t":61241.72,"r":0.18},{"t":61241.78,"r":1.08},{"t":61241.83,"r":-1.18},{"t":61241.89,"r":0.56},{"t":61241.94,"r":-0.12},
      {"t":61242,"r":1.91},{"t":61242.06,"r":-0.73},{"t":61242.11,"r":0.29},{"t":61242.17,"r":-1.52},{"t":61242.22,"r":0.64},{"t":61242.28,"r":-0.09},{"t":61242.33,"r":1.46},{"t":61242.39,"r":-0.98},{"t":61242.44,"r":0.41},{"t":61242.5,"r":-0.34},{"t":61242.56,"r":1.12},{"t":61242.61,"r":-1.94},{"t":61242.67,"r":0.17},{"t":61242.72,"r":0.78},{"t":61242.78,"r":-0.55},{"t":61242.83,"r":1.35},{"t":61242.89,"r":-1.27},{"t":61242.94,"r":0.33},
      {"t":61243,"r":-0.62},{"t":61243.06,"r":0.96},{"t":61243.11,"r":-1.63},{"t":61243.17,"r":0.25},{"t":61243.22,"r":1.54},{"t":61243.28,"r":-0.41},{"t":61243.33,"r":0.68},{"t":61243.39,"r":-1.09},{"t":61243.44,"r":0.12},{"t":61243.5,"r":1.39},{"t":61243.56,"r":-0.82},{"t":61243.61,"r":0.47},{"t":61243.67,"r":-1.78},{"t":61243.72,"r":0.92},{"t":61243.78,"r":-0.28},{"t":61243.83,"r":1.13},{"t":61243.89,"r":-0.67},{"t":61243.94,"r":0.36},
      {"t":61244,"r":0.21},{"t":61244.06,"r":-1.42},{"t":61244.11,"r":1.61},{"t":61244.17,"r":-0.36},{"t":61244.22,"r":0.87},{"t":61244.28,"r":-0.71},{"t":61244.33,"r":0.04},{"t":61244.39,"r":1.26},{"t":61244.44,"r":-1.05},{"t":61244.5,"r":0.58},{"t":61244.56,"r":-0.43},{"t":61244.61,"r":1.04},{"t":61244.67,"r":-1.38},{"t":61244.72,"r":0.33},{"t":61244.78,"r":0.79},{"t":61244.83,"r":-0.88},{"t":61244.89,"r":1.72},{"t":61244.94,"r":-0.19},
      {"t":61245,"r":-0.77},{"t":61245.06,"r":0.54},{"t":61245.11,"r":-1.21},{"t":61245.17,"r":1.08},{"t":61245.22,"r":0.27},{"t":61245.28,"r":-0.54},{"t":61245.33,"r":1.47},{"t":61245.39,"r":-0.93},{"t":61245.44,"r":0.16},{"t":61245.5,"r":-1.32},{"t":61245.56,"r":0.71},{"t":61245.61,"r":0.38},{"t":61245.67,"r":-0.64},{"t":61245.72,"r":1.18},{"t":61245.78,"r":-1.08},{"t":61245.83,"r":0.49},{"t":61245.89,"r":-0.26},{"t":61245.94,"r":0.92},
      {"t":61246,"r":0.63},{"t":61246.06,"r":-1.46},{"t":61246.11,"r":0.12},{"t":61246.17,"r":1.67},{"t":61246.22,"r":-0.58},{"t":61246.28,"r":0.34},{"t":61246.33,"r":-1.29},{"t":61246.39,"r":0.81},{"t":61246.44,"r":-0.18},{"t":61246.5,"r":0.57},{"t":61246.56,"r":-1.61},{"t":61246.61,"r":1.78},{"t":61246.67,"r":-0.37},{"t":61246.72,"r":0.22},{"t":61246.78,"r":-0.94},{"t":61246.83,"r":1.44},{"t":61246.89,"r":-1.21},{"t":61246.94,"r":0.41},
      {"t":61247,"r":-1.92},{"t":61247.06,"r":0.93},{"t":61247.11,"r":-0.35},{"t":61247.17,"r":0.58},{"t":61247.22,"r":-1.03},{"t":61247.28,"r":1.36},{"t":61247.33,"r":0.09},{"t":61247.39,"r":-0.62},{"t":61247.44,"r":0.87},{"t":61247.5,"r":-1.27},{"t":61247.56,"r":0.42},{"t":61247.61,"r":-0.15},{"t":61247.67,"r":1.01},{"t":61247.72,"r":-0.81},{"t":61247.78,"r":0.28},{"t":61247.83,"r":-1.98},{"t":61247.89,"r":0.67},{"t":61247.94,"r":0.14},
      {"t":61248,"r":0.71},{"t":61248.06,"r":-0.48},{"t":61248.11,"r":1.23},{"t":61248.17,"r":-0.86},{"t":61248.22,"r":0.35},{"t":61248.28,"r":0.92},{"t":61248.33,"r":-1.14},{"t":61248.39,"r":0.19},{"t":61248.44,"r":-0.42},{"t":61248.5,"r":1.05},{"t":61248.56,"r":-1.43},{"t":61248.61,"r":0.62},{"t":61248.67,"r":-0.07},{"t":61248.72,"r":0.83},{"t":61248.78,"r":-1.61},{"t":61248.83,"r":0.45},{"t":61248.89,"r":1.15},{"t":61248.94,"r":-0.68},
      {"t":61249,"r":0.26},{"t":61249.06,"r":-1.15},{"t":61249.11,"r":1.87},{"t":61249.17,"r":-0.54},{"t":61249.22,"r":0.68},{"t":61249.28,"r":-1.62},{"t":61249.33,"r":1.02},{"t":61249.39,"r":-0.23},{"t":61249.44,"r":0.47},{"t":61249.5,"r":-0.86},{"t":61249.56,"r":-1.88},{"t":61249.61,"r":0.96},{"t":61249.67,"r":-0.31},{"t":61249.72,"r":1.08},{"t":61249.78,"r":-0.72},{"t":61249.83,"r":0.38},{"t":61249.89,"r":-1.24},{"t":61249.94,"r":0.15},
      {"t":61250,"r":0.52},{"t":61250.06,"r":-0.94},{"t":61250.11,"r":1.63},{"t":61250.17,"r":-0.37},{"t":61250.22,"r":0.84},{"t":61250.28,"r":-1.71},{"t":61250.33,"r":0.29},{"t":61250.39,"r":-0.61},{"t":61250.44,"r":1.12},{"t":61250.5,"r":-0.18},{"t":61250.56,"r":0.47},{"t":61250.61,"r":-1.27},{"t":61250.67,"r":0.96},{"t":61250.72,"r":-0.43},{"t":61250.78,"r":1.45},{"t":61250.83,"r":-0.84},{"t":61250.89,"r":0.33},{"t":61250.94,"r":-1.13},
      {"t":61217.03,"r":-0.84},{"t":61217.08,"r":0.47},{"t":61217.14,"r":-0.15},{"t":61217.19,"r":0.92},{"t":61217.25,"r":-1.12},{"t":61217.31,"r":0.36},{"t":61217.36,"r":1.41},{"t":61217.42,"r":-0.27},{"t":61217.47,"r":-0.66},{"t":61217.53,"r":0.18},{"t":61217.58,"r":1.03},{"t":61217.64,"r":-1.47},{"t":61217.69,"r":0.58},{"t":61217.75,"r":-0.39},{"t":61217.81,"r":0.12},{"t":61217.86,"r":1.21},{"t":61217.92,"r":-0.93},{"t":61217.97,"r":0.41},
      {"t":61218.03,"r":-0.55},{"t":61218.08,"r":1.06},{"t":61218.14,"r":-1.31},{"t":61218.19,"r":0.24},{"t":61218.25,"r":-0.08},{"t":61218.31,"r":1.52},{"t":61218.36,"r":-0.73},{"t":61218.42,"r":0.63},{"t":61218.47,"r":-1.18},{"t":61218.53,"r":0.33},{"t":61218.58,"r":-0.41},{"t":61218.64,"r":0.86},{"t":61218.69,"r":1.34},{"t":61218.75,"r":-0.97},{"t":61218.81,"r":0.07},{"t":61218.86,"r":-1.54},{"t":61218.92,"r":0.72},{"t":61218.97,"r":-0.23},
      {"t":61219.03,"r":0.97},{"t":61219.08,"r":-0.63},{"t":61219.14,"r":0.39},{"t":61219.19,"r":-1.41},{"t":61219.25,"r":0.81},{"t":61219.31,"r":0.12},{"t":61219.36,"r":-0.29},{"t":61219.42,"r":1.24},{"t":61219.47,"r":-0.88},{"t":61219.53,"r":0.54},{"t":61219.58,"r":-1.62},{"t":61219.64,"r":0.28},{"t":61219.69,"r":0.93},{"t":61219.75,"r":-0.51},{"t":61219.81,"r":-1.17},{"t":61219.86,"r":0.45},{"t":61219.92,"r":1.38},{"t":61219.97,"r":-0.06},
      {"t":61220.03,"r":0.44},{"t":61220.08,"r":-1.05},{"t":61220.14,"r":1.16},{"t":61220.19,"r":-0.32},{"t":61220.25,"r":0.67},{"t":61220.31,"r":-0.74},{"t":61220.36,"r":1.71},{"t":61220.42,"r":-0.18},{"t":61220.47,"r":0.29},{"t":61220.53,"r":-1.36},{"t":61220.58,"r":0.85},{"t":61220.64,"r":-0.57},{"t":61220.69,"r":0.03},{"t":61220.75,"r":1.29},{"t":61220.81,"r":-0.91},{"t":61220.86,"r":0.38},{"t":61220.92,"r":-1.49},{"t":61220.97,"r":0.76},
      {"t":61221.03,"r":1.14},{"t":61221.08,"r":-0.42},{"t":61221.14,"r":0.58},{"t":61221.19,"r":-0.96},{"t":61221.25,"r":0.21},{"t":61221.31,"r":1.62},{"t":61221.36,"r":-1.23},{"t":61221.42,"r":0.37},{"t":61221.47,"r":-0.14},{"t":61221.53,"r":0.89},{"t":61221.58,"r":-0.68},{"t":61221.64,"r":1.33},{"t":61221.69,"r":-1.41},{"t":61221.75,"r":0.16},{"t":61221.81,"r":0.74},{"t":61221.86,"r":-0.35},{"t":61221.92,"r":1.08},{"t":61221.97,"r":-0.87},
      {"t":61222.03,"r":0.26},{"t":61222.08,"r":-0.79},{"t":61222.14,"r":1.38},{"t":61222.19,"r":-0.22},{"t":61222.25,"r":0.65},{"t":61222.31,"r":-1.53},{"t":61222.36,"r":0.94},{"t":61222.42,"r":0.11},{"t":61222.47,"r":-0.46},{"t":61222.53,"r":1.19},{"t":61222.58,"r":-1.02},{"t":61222.64,"r":0.52},{"t":61222.69,"r":-0.31},{"t":61222.75,"r":1.47},{"t":61222.81,"r":-0.64},{"t":61222.86,"r":0.08},{"t":61222.92,"r":-1.26},{"t":61222.97,"r":0.83},
      {"t":61223.03,"r":0.69},{"t":61223.08,"r":-0.24},{"t":61223.14,"r":-1.19},{"t":61223.19,"r":0.92},{"t":61223.25,"r":0.34},{"t":61223.31,"r":-0.71},{"t":61223.36,"r":1.26},{"t":61223.42,"r":-1.44},{"t":61223.47,"r":0.18},{"t":61223.53,"r":0.81},{"t":61223.58,"r":-0.39},{"t":61223.64,"r":1.05},{"t":61223.69,"r":-0.86},{"t":61223.75,"r":0.47},{"t":61223.81,"r":-1.66},{"t":61223.86,"r":0.29},{"t":61223.92,"r":0.97},{"t":61223.97,"r":-0.12},
      {"t":61224.03,"r":-0.88},{"t":61224.08,"r":0.31},{"t":61224.14,"r":0.96},{"t":61224.19,"r":-1.27},{"t":61224.25,"r":0.52},{"t":61224.31,"r":-0.18},{"t":61224.36,"r":1.36},{"t":61224.42,"r":-0.64},{"t":61224.47,"r":0.09},{"t":61224.53,"r":1.74},{"t":61224.58,"r":-1.08},{"t":61224.64,"r":0.42},{"t":61224.69,"r":-0.53},{"t":61224.75,"r":0.87},{"t":61224.81,"r":-1.36},{"t":61224.86,"r":0.21},{"t":61224.92,"r":1.22},{"t":61224.97,"r":-0.45},
      {"t":61225.03,"r":1.33},{"t":61225.08,"r":-0.91},{"t":61225.14,"r":0.17},{"t":61225.19,"r":0.68},{"t":61225.25,"r":-1.46},{"t":61225.31,"r":0.43},{"t":61225.36,"r":-0.25},{"t":61225.42,"r":1.09},{"t":61225.47,"r":-0.77},{"t":61225.53,"r":0.56},{"t":61225.58,"r":-1.15},{"t":61225.64,"r":0.92},{"t":61225.69,"r":0.04},{"t":61225.75,"r":-0.62},{"t":61225.81,"r":1.49},{"t":61225.86,"r":-1.01},{"t":61225.92,"r":0.35},{"t":61225.97,"r":0.79},
      {"t":61226.03,"r":-0.47},{"t":61226.08,"r":1.28},{"t":61226.14,"r":-0.86},{"t":61226.19,"r":0.15},{"t":61226.25,"r":0.74},{"t":61226.31,"r":-1.32},{"t":61226.36,"r":0.51},{"t":61226.42,"r":-0.09},{"t":61226.47,"r":1.16},{"t":61226.53,"r":-0.58},{"t":61226.58,"r":0.93},{"t":61226.64,"r":-1.67},{"t":61226.69,"r":0.36},{"t":61226.75,"r":0.68},{"t":61226.81,"r":-0.29},{"t":61226.86,"r":1.42},{"t":61226.92,"r":-0.95},{"t":61226.97,"r":0.22},
      {"t":61227.03,"r":-1.06},{"t":61227.08,"r":0.39},{"t":61227.14,"r":1.19},{"t":61227.19,"r":-0.51},{"t":61227.25,"r":0.26},{"t":61227.31,"r":-0.93},{"t":61227.36,"r":1.56},{"t":61227.42,"r":-0.17},{"t":61227.47,"r":0.62},{"t":61227.53,"r":-1.28},{"t":61227.58,"r":0.08},{"t":61227.64,"r":0.97},{"t":61227.69,"r":-0.69},{"t":61227.75,"r":1.31},{"t":61227.81,"r":-1.12},{"t":61227.86,"r":0.47},{"t":61227.92,"r":-0.36},{"t":61227.97,"r":1.05},
      {"t":61228.03,"r":0.58},{"t":61228.08,"r":-1.23},{"t":61228.14,"r":0.34},{"t":61228.19,"r":0.91},{"t":61228.25,"r":-0.62},{"t":61228.31,"r":1.45},{"t":61228.36,"r":-0.98},{"t":61228.42,"r":0.13},{"t":61228.47,"r":-0.41},{"t":61228.53,"r":1.17},{"t":61228.58,"r":-1.51},{"t":61228.64,"r":0.66},{"t":61228.69,"r":0.22},{"t":61228.75,"r":-0.83},{"t":61228.81,"r":1.08},{"t":61228.86,"r":-0.27},{"t":61228.92,"r":0.74},{"t":61228.97,"r":-1.39},
      {"t":61229.03,"r":0.92},{"t":61229.08,"r":-0.37},{"t":61229.14,"r":1.48},{"t":61229.19,"r":-1.09},{"t":61229.25,"r":0.27},{"t":61229.31,"r":-0.56},{"t":61229.36,"r":0.83},{"t":61229.42,"r":-1.71},{"t":61229.47,"r":0.45},{"t":61229.53,"r":1.12},{"t":61229.58,"r":-0.23},{"t":61229.64,"r":0.61},{"t":61229.69,"r":-1.14},{"t":61229.75,"r":0.37},{"t":61229.81,"r":1.63},{"t":61229.86,"r":-0.79},{"t":61229.92,"r":0.16},{"t":61229.97,"r":-0.48},
      {"t":61230.03,"r":-0.96},{"t":61230.08,"r":0.72},{"t":61230.14,"r":-0.41},{"t":61230.19,"r":1.26},{"t":61230.25,"r":-1.18},{"t":61230.31,"r":0.35},{"t":61230.36,"r":0.97},{"t":61230.42,"r":-0.62},{"t":61230.47,"r":1.53},{"t":61230.53,"r":-0.24},{"t":61230.58,"r":-1.37},{"t":61230.64,"r":0.81},{"t":61230.69,"r":0.18},{"t":61230.75,"r":-0.89},{"t":61230.81,"r":1.22},{"t":61230.86,"r":-0.51},{"t":61230.92,"r":0.64},{"t":61230.97,"r":-1.29},
      {"t":61231.03,"r":1.21},{"t":61231.08,"r":-0.64},{"t":61231.14,"r":0.29},{"t":61231.19,"r":-1.47},{"t":61231.25,"r":0.86},{"t":61231.31,"r":0.13},{"t":61231.36,"r":-0.81},{"t":61231.42,"r":1.38},{"t":61231.47,"r":-0.36},{"t":61231.53,"r":0.55},{"t":61231.58,"r":-1.09},{"t":61231.64,"r":0.94},{"t":61231.69,"r":-0.19},{"t":61231.75,"r":1.61},{"t":61231.81,"r":-0.72},{"t":61231.86,"r":0.27},{"t":61231.92,"r":-1.33},{"t":61231.97,"r":0.49},
      {"t":61232.03,"r":-0.38},{"t":61232.08,"r":1.12},{"t":61232.14,"r":-0.93},{"t":61232.19,"r":0.46},{"t":61232.25,"r":-1.29},{"t":61232.31,"r":0.78},{"t":61232.36,"r":0.21},{"t":61232.42,"r":-0.54},{"t":61232.47,"r":1.34},{"t":61232.53,"r":-1.06},{"t":61232.58,"r":0.37},{"t":61232.64,"r":-0.18},{"t":61232.69,"r":0.96},{"t":61232.75,"r":-1.43},{"t":61232.81,"r":0.63},{"t":61232.86,"r":1.18},{"t":61232.92,"r":-0.69},{"t":61232.97,"r":0.08},
      {"t":61233.03,"r":0.53},{"t":61233.08,"r":-1.18},{"t":61233.14,"r":0.87},{"t":61233.19,"r":-0.26},{"t":61233.25,"r":1.43},{"t":61233.31,"r":-0.71},{"t":61233.36,"r":0.34},{"t":61233.42,"r":-1.52},{"t":61233.47,"r":0.66},{"t":61233.53,"r":0.12},{"t":61233.58,"r":-0.83},{"t":61233.64,"r":1.26},{"t":61233.69,"r":-0.47},{"t":61233.75,"r":0.78},{"t":61233.81,"r":-1.11},{"t":61233.86,"r":0.39},{"t":61233.92,"r":1.67},{"t":61233.97,"r":-0.58},
      {"t":61234.03,"r":-0.65},{"t":61234.08,"r":0.94},{"t":61234.14,"r":-1.26},{"t":61234.19,"r":0.38},{"t":61234.25,"r":1.12},{"t":61234.31,"r":-0.49},{"t":61234.36,"r":-0.17},{"t":61234.42,"r":1.53},{"t":61234.47,"r":-0.88},{"t":61234.53,"r":0.26},{"t":61234.58,"r":-1.41},{"t":61234.64,"r":0.71},{"t":61234.69,"r":0.45},{"t":61234.75,"r":-0.63},{"t":61234.81,"r":1.27},{"t":61234.86,"r":-1.02},{"t":61234.92,"r":0.14},{"t":61234.97,"r":0.89},
      {"t":61235.03,"r":1.06},{"t":61235.08,"r":-0.32},{"t":61235.14,"r":0.61},{"t":61235.19,"r":-1.22},{"t":61235.25,"r":0.19},{"t":61235.31,"r":1.49},{"t":61235.36,"r":-0.77},{"t":61235.42,"r":0.36},{"t":61235.47,"r":-1.08},{"t":61235.53,"r":0.84},{"t":61235.58,"r":-0.41},{"t":61235.64,"r":1.18},{"t":61235.69,"r":-1.57},{"t":61235.75,"r":0.27},{"t":61235.81,"r":0.72},{"t":61235.86,"r":-0.93},{"t":61235.92,"r":1.35},{"t":61235.97,"r":-0.16},
      {"t":61236.03,"r":0.47},{"t":61236.08,"r":-1.39},{"t":61236.14,"r":0.83},{"t":61236.19,"r":-0.12},{"t":61236.25,"r":1.26},{"t":61236.31,"r":-0.84},{"t":61236.36,"r":0.32},{"t":61236.42,"r":-0.57},{"t":61236.47,"r":1.62},{"t":61236.53,"r":-1.16},{"t":61236.58,"r":0.09},{"t":61236.64,"r":0.76},{"t":61236.69,"r":-0.66},{"t":61236.75,"r":1.11},{"t":61236.81,"r":-1.28},{"t":61236.86,"r":0.42},{"t":61236.92,"r":-0.21},{"t":61236.97,"r":0.98},
      {"t":61237.03,"r":-0.73},{"t":61237.08,"r":0.58},{"t":61237.14,"r":1.37},{"t":61237.19,"r":-1.04},{"t":61237.25,"r":0.23},{"t":61237.31,"r":-0.46},{"t":61237.36,"r":0.91},{"t":61237.42,"r":-1.62},{"t":61237.47,"r":0.67},{"t":61237.53,"r":1.04},{"t":61237.58,"r":-0.35},{"t":61237.64,"r":0.19},{"t":61237.69,"r":-1.21},{"t":61237.75,"r":0.86},{"t":61237.81,"r":1.49},{"t":61237.86,"r":-0.78},{"t":61237.92,"r":0.31},{"t":61237.97,"r":-0.97},
      {"t":61238.03,"r":1.17},{"t":61238.08,"r":-0.86},{"t":61238.14,"r":0.42},{"t":61238.19,"r":-0.31},{"t":61238.25,"r":1.41},{"t":61238.31,"r":-1.19},{"t":61238.36,"r":0.65},{"t":61238.42,"r":0.07},{"t":61238.47,"r":-0.92},{"t":61238.53,"r":1.28},{"t":61238.58,"r":-0.48},{"t":61238.64,"r":0.81},{"t":61238.69,"r":-1.54},{"t":61238.75,"r":0.33},{"t":61238.81,"r":0.59},{"t":61238.86,"r":-1.05},{"t":61238.92,"r":1.36},{"t":61238.97,"r":-0.22},
      {"t":61239.03,"r":0.31},{"t":61239.08,"r":1.06},{"t":61239.14,"r":-1.33},{"t":61239.19,"r":0.64},{"t":61239.25,"r":-0.42},{"t":61239.31,"r":1.19},{"t":61239.36,"r":0.15},{"t":61239.42,"r":-0.97},{"t":61239.47,"r":1.58},{"t":61239.53,"r":-0.61},{"t":61239.58,"r":0.38},{"t":61239.64,"r":-1.26},{"t":61239.69,"r":0.92},{"t":61239.75,"r":-0.14},{"t":61239.81,"r":1.31},{"t":61239.86,"r":-0.83},{"t":61239.92,"r":0.56},{"t":61239.97,"r":-1.48},
      {"t":61240.03,"r":-1.12},{"t":61240.08,"r":0.76},{"t":61240.14,"r":-0.27},{"t":61240.19,"r":1.38},{"t":61240.25,"r":-0.69},{"t":61240.31,"r":0.21},{"t":61240.36,"r":1.04},{"t":61240.42,"r":-1.43},{"t":61240.47,"r":0.48},{"t":61240.53,"r":-0.13},{"t":61240.58,"r":0.87},{"t":61240.64,"r":-0.94},{"t":61240.69,"r":1.57},{"t":61240.75,"r":-0.38},{"t":61240.81,"r":0.24},{"t":61240.86,"r":-1.31},{"t":61240.92,"r":0.69},{"t":61240.97,"r":1.13},
      {"t":61241.03,"r":0.66},{"t":61241.08,"r":-0.98},{"t":61241.14,"r":1.24},{"t":61241.19,"r":-0.45},{"t":61241.25,"r":0.37},{"t":61241.31,"r":-1.38},{"t":61241.36,"r":0.89},{"t":61241.42,"r":0.12},{"t":61241.47,"r":-0.71},{"t":61241.53,"r":1.46},{"t":61241.58,"r":-1.02},{"t":61241.64,"r":0.31},{"t":61241.69,"r":0.78},{"t":61241.75,"r":-0.59},{"t":61241.81,"r":1.18},{"t":61241.86,"r":-1.47},{"t":61241.92,"r":0.26},{"t":61241.97,"r":-0.33},
      {"t":61242.03,"r":-0.59},{"t":61242.08,"r":1.31},{"t":61242.14,"r":-0.84},{"t":61242.19,"r":0.55},{"t":61242.25,"r":-1.27},{"t":61242.31,"r":0.92},{"t":61242.36,"r":0.17},{"t":61242.42,"r":-0.43},{"t":61242.47,"r":1.64},{"t":61242.53,"r":-0.96},{"t":61242.58,"r":0.38},{"t":61242.64,"r":-1.58},{"t":61242.69,"r":0.73},{"t":61242.75,"r":1.02},{"t":61242.81,"r":-0.26},{"t":61242.86,"r":0.49},{"t":61242.92,"r":-1.09},{"t":61242.97,"r":1.22},
      {"t":61243.03,"r":1.02},{"t":61243.08,"r":-0.47},{"t":61243.14,"r":0.26},{"t":61243.19,"r":1.33},{"t":61243.25,"r":-0.92},{"t":61243.31,"r":0.58},{"t":61243.36,"r":-1.46},{"t":61243.42,"r":0.77},{"t":61243.47,"r":-0.18},{"t":61243.53,"r":1.21},{"t":61243.58,"r":-0.63},{"t":61243.64,"r":0.34},{"t":61243.69,"r":0.96},{"t":61243.75,"r":-1.24},{"t":61243.81,"r":0.13},{"t":61243.86,"r":1.47},{"t":61243.92,"r":-0.81},{"t":61243.97,"r":0.52},
      {"t":61244.03,"r":-1.24},{"t":61244.08,"r":0.63},{"t":61244.14,"r":1.08},{"t":61244.19,"r":-0.54},{"t":61244.25,"r":0.29},{"t":61244.31,"r":-0.97},{"t":61244.36,"r":1.36},{"t":61244.42,"r":-0.23},{"t":61244.47,"r":0.71},{"t":61244.53,"r":-1.61},{"t":61244.58,"r":0.49},{"t":61244.64,"r":1.27},{"t":61244.69,"r":-0.42},{"t":61244.75,"r":0.16},{"t":61244.81,"r":-1.13},{"t":61244.86,"r":0.88},{"t":61244.92,"r":-0.64},{"t":61244.97,"r":1.41},
      {"t":61245.03,"r":0.82},{"t":61245.08,"r":-1.16},{"t":61245.14,"r":0.37},{"t":61245.19,"r":1.52},{"t":61245.25,"r":-0.61},{"t":61245.31,"r":0.09},{"t":61245.36,"r":-1.29},{"t":61245.42,"r":0.96},{"t":61245.47,"r":-0.35},{"t":61245.53,"r":1.23},{"t":61245.58,"r":-0.88},{"t":61245.64,"r":0.54},{"t":61245.69,"r":-1.47},{"t":61245.75,"r":0.71},{"t":61245.81,"r":0.24},{"t":61245.86,"r":-0.76},{"t":61245.92,"r":1.37},{"t":61245.97,"r":-0.19},
      {"t":61246.03,"r":-0.28},{"t":61246.08,"r":0.91},{"t":61246.14,"r":-1.58},{"t":61246.19,"r":0.46},{"t":61246.25,"r":1.13},{"t":61246.31,"r":-0.73},{"t":61246.36,"r":0.27},{"t":61246.42,"r":-1.11},{"t":61246.47,"r":1.42},{"t":61246.53,"r":-0.49},{"t":61246.58,"r":0.68},{"t":61246.64,"r":-0.16},{"t":61246.69,"r":1.26},{"t":61246.75,"r":-1.34},{"t":61246.81,"r":0.53},{"t":61246.86,"r":0.92},{"t":61246.92,"r":-0.82},{"t":61246.97,"r":0.35},
      {"t":61247.03,"r":1.27},{"t":61247.08,"r":-0.66},{"t":61247.14,"r":0.48},{"t":61247.19,"r":-1.31},{"t":61247.25,"r":0.83},{"t":61247.31,"r":0.21},{"t":61247.36,"r":-0.94},{"t":61247.42,"r":1.59},{"t":61247.47,"r":-0.38},{"t":61247.53,"r":0.74},{"t":61247.58,"r":-1.23},{"t":61247.64,"r":0.12},{"t":61247.69,"r":1.06},{"t":61247.75,"r":-0.57},{"t":61247.81,"r":-1.42},{"t":61247.86,"r":0.66},{"t":61247.92,"r":1.33},{"t":61247.97,"r":-0.84},
      {"t":61248.03,"r":-0.42},{"t":61248.08,"r":1.19},{"t":61248.14,"r":-1.06},{"t":61248.19,"r":0.31},{"t":61248.25,"r":1.48},{"t":61248.31,"r":-0.67},{"t":61248.36,"r":0.56},{"t":61248.42,"r":-1.29},{"t":61248.47,"r":0.89},{"t":61248.53,"r":-0.14},{"t":61248.58,"r":1.36},{"t":61248.64,"r":-0.91},{"t":61248.69,"r":0.23},{"t":61248.75,"r":-1.52},{"t":61248.81,"r":0.77},{"t":61248.86,"r":1.04},{"t":61248.92,"r":-0.36},{"t":61248.97,"r":0.62},
      {"t":61249.03,"r":0.94},{"t":61249.08,"r":-1.31},{"t":61249.14,"r":0.47},{"t":61249.19,"r":-0.18},{"t":61249.25,"r":1.57},{"t":61249.31,"r":-0.93},{"t":61249.36,"r":0.28},{"t":61249.42,"r":1.21},{"t":61249.47,"r":-0.66},{"t":61249.53,"r":0.41},{"t":61249.58,"r":-1.39},{"t":61249.64,"r":0.86},{"t":61249.69,"r":-0.29},{"t":61249.75,"r":1.71},{"t":61249.81,"r":-1.07},{"t":61249.86,"r":0.53},{"t":61249.92,"r":0.12},{"t":61249.97,"r":-0.78},
      {"t":61250.03,"r":-0.61},{"t":61250.08,"r":1.08},{"t":61250.14,"r":-1.19},{"t":61250.19,"r":0.36},{"t":61250.25,"r":0.79},{"t":61250.31,"r":-1.46},{"t":61250.36,"r":0.57},{"t":61250.42,"r":-0.24},{"t":61250.47,"r":1.31},{"t":61250.53,"r":-0.87},{"t":61250.58,"r":0.19},{"t":61250.64,"r":1.52},{"t":61250.69,"r":-1.03},{"t":61250.75,"r":0.46},{"t":61250.81,"r":-0.58},{"t":61250.86,"r":1.18},{"t":61250.92,"r":-1.36},{"t":61250.97,"r":0.71}
    ],
    "note": [
      {"t":61218,"r":-2.27,"s":"Max Smoothing Residual: -2.310_Vdk1.D5\u00a0 Sigma= 0.799ns14/53_08/04/26Mn__-1528.523"}
    ],
    "madev": [
      {"x":2.997,"y":-12.113,"lab":"770.1"},{"x":3.298,"y":-12.487,"lab":"326.2"},{"x":3.599,"y":-12.769,"lab":"170.4"},{"x":3.9,"y":-12.977,"lab":"105.5"},{"x":4.201,"y":-13.175,"lab":"66.9"},{"x":4.502,"y":-13.301,"lab":"50.0"},{"x":4.803,"y":-13.465,"lab":"34.3"},{"x":5.104,"y":-13.646,"lab":"22.6"},{"x":5.405,"y":-13.818,"lab":"15.2"},{"x":5.706,"y":-14.027,"lab":"9.4"}
    ],
    "tdev": [
      {"x":2.997,"y":-9.357,"lab":"4.4"},{"x":3.298,"y":-9.432,"lab":"3.7"},{"x":3.599,"y":-9.409,"lab":"3.9"},{"x":3.9,"y":-9.319,"lab":"4.8"},{"x":4.201,"y":-9.215,"lab":"6.1"},{"x":4.502,"y":-9.036,"lab":"9.2"},{"x":4.803,"y":-8.9,"lab":"12.6"},{"x":5.104,"y":-8.78,"lab":"16.6"},{"x":5.405,"y":-8.652,"lab":"22.3"},{"x":5.706,"y":-8.559,"lab":"27.6"}
    ],
    "marks": [
      {"x":3.255,"lab":"h/2"},{"x":3.556,"lab":"h"},{"x":4.033,"lab":"d/8"},{"x":4.334,"lab":"d/4"},{"x":4.635,"lab":"d/2"},{"x":4.936,"lab":"day"},{"x":5.414,"lab":"ddd"},{"x":5.782,"lab":"wk"}
    ],
    "tau": [
      {"tx":2.25,"ty":-11.76,"s":"τ = 992s"}
    ]
  },
  "vconcat": [
    {
      "width": 1259,
      "height": 721,
      "title": {"text": "UTC(LT)-UTC(PTB)\u00a0 /GALP3\u00a0 (LT03,PT13)", "font": "Liberation Sans", "fontSize": 35, "fontWeight": "normal", "color": "#000", "anchor": "middle", "frame": "group", "baseline": "bottom", "offset": -4},
      "resolve": {"axis": {"x": "independent", "y": "independent"}},
      "layer": [
        {
          "data": {"name": "raw"},
          "mark": {"type": "point", "shape": "M-1,-1L1,1M-1,1L1,-1", "filled": false, "color": "#000", "size": 45, "strokeWidth": 1.2, "opacity": 1},
          "encoding": {
            "x": {"field": "t", "type": "quantitative", "scale": {"domain": [61217, 61251], "nice": false, "zero": false},
              "axis": {"orient": "bottom", "values": [61217,61218,61219,61220,61221,61222,61223,61224,61225,61226,61227,61228,61229,61230,61231,61232,61233,61234,61235,61236,61237,61238,61239,61240,61241,61242,61243,61244,61245,61246,61247,61248,61249,61250,61251], "format": "d", "labelExpr": "datum.value % 5 === 0 ? datum.label : ''", "tickSize": {"condition": {"test": "datum.value % 5 === 0", "value": 14}, "value": 7}, "labelPadding": 4, "title": "Modified Julian Date", "titlePadding": 1}},
            "y": {"field": "v", "type": "quantitative", "scale": {"domain": [-1566, -1489], "nice": false, "zero": false},
              "axis": {"orient": "left", "values": [-1560,-1550,-1540,-1530,-1520,-1510,-1500,-1490], "format": "d", "tickSize": 14, "labelPadding": 13, "title": "nanosecond", "titlePadding": 2}}
          }
        },
        {
          "data": {"name": "smooth"},
          "mark": {"type": "line", "color": "#1f8fe5", "strokeWidth": 4, "interpolate": "monotone"},
          "encoding": {
            "x": {"field": "t", "type": "quantitative",
              "axis": {"orient": "top", "values": [61217,61218,61219,61220,61221,61222,61223,61224,61225,61226,61227,61228,61229,61230,61231,61232,61233,61234,61235,61236,61237,61238,61239,61240,61241,61242,61243,61244,61245,61246,61247,61248,61249,61250,61251], "labels": false, "tickSize": {"condition": {"test": "datum.value % 5 === 0", "value": 14}, "value": 7}, "title": null}},
            "y": {"field": "v", "type": "quantitative",
              "axis": {"orient": "right", "values": [-1560,-1550,-1540,-1530,-1520,-1510,-1500,-1490], "labels": false, "tickSize": 14, "title": null}}
          }
        },
        {
          "data": {"name": "peaks"},
          "mark": {"type": "point", "shape": "triangle-up", "size": 1500, "filled": false, "color": "#ff0000", "strokeWidth": 3, "opacity": 1},
          "encoding": {
            "x": {"field": "t", "type": "quantitative", "axis": null},
            "y": {"field": "v", "type": "quantitative", "axis": null}
          }
        },
        {
          "data": {"name": "peaks"},
          "mark": {"type": "text", "color": "#ff0000", "fontWeight": "bold", "fontSize": 25, "align": "center", "baseline": "middle", "dy": -83},
          "encoding": {
            "x": {"field": "t", "type": "quantitative", "axis": null},
            "y": {"field": "v", "type": "quantitative", "axis": null},
            "text": {"field": "lab"}
          }
        },
        {
          "data": {"name": "gal"},
          "mark": {"type": "text", "color": "#000", "fontWeight": "bold", "fontSize": 30, "align": "left", "baseline": "middle"},
          "encoding": {
            "x": {"field": "t", "type": "quantitative", "axis": null},
            "y": {"field": "v", "type": "quantitative", "axis": null},
            "text": {"field": "s"}
          }
        }
      ]
    },
    {
      "width": 1259,
      "height": 449,
      "resolve": {"axis": {"x": "independent", "y": "independent"}},
      "layer": [
        {
          "data": {"name": "resid"},
          "mark": {"type": "point", "shape": "M-1,-1L1,1M-1,1L1,-1", "filled": false, "color": "#000", "size": 25, "strokeWidth": 0.9, "opacity": 1},
          "encoding": {
            "x": {"field": "t", "type": "quantitative", "scale": {"domain": [61217, 61251], "nice": false, "zero": false},
              "axis": {"orient": "bottom", "values": [61217,61218,61219,61220,61221,61222,61223,61224,61225,61226,61227,61228,61229,61230,61231,61232,61233,61234,61235,61236,61237,61238,61239,61240,61241,61242,61243,61244,61245,61246,61247,61248,61249,61250,61251], "format": "d", "labelExpr": "datum.value % 5 === 0 ? datum.label : ''", "tickSize": {"condition": {"test": "datum.value % 5 === 0", "value": 14}, "value": 7}, "labelPadding": 4, "title": "Modified Julian Date", "titlePadding": 0}},
            "y": {"field": "r", "type": "quantitative", "scale": {"domain": [-2.62, 2.78], "nice": false, "zero": false},
              "axis": {"orient": "left", "values": [-2.5,-2,-1.5,-1,-0.5,0,0.5,1,1.5,2,2.5], "format": ".1f", "tickSize": 13, "labelPadding": 13, "title": "residuals (ns)", "titlePadding": 4}}
          }
        },
        {
          "data": {"name": "note"},
          "mark": {"type": "text", "color": "#000", "fontWeight": "bold", "fontSize": 25, "align": "left", "baseline": "middle"},
          "encoding": {
            "x": {"field": "t", "type": "quantitative",
              "axis": {"orient": "top", "values": [61217,61218,61219,61220,61221,61222,61223,61224,61225,61226,61227,61228,61229,61230,61231,61232,61233,61234,61235,61236,61237,61238,61239,61240,61241,61242,61243,61244,61245,61246,61247,61248,61249,61250,61251], "labels": false, "tickSize": {"condition": {"test": "datum.value % 5 === 0", "value": 14}, "value": 7}, "title": null}},
            "y": {"field": "r", "type": "quantitative",
              "axis": {"orient": "right", "values": [-2.5,-2,-1.5,-1,-0.5,0,0.5,1,1.5,2,2.5], "labels": false, "tickSize": 13, "title": null}},
            "text": {"field": "s"}
          }
        }
      ]
    },
    {
      "hconcat": [
        {
          "width": 540,
          "height": 450,
          "resolve": {"axis": {"x": "independent", "y": "independent"}},
          "layer": [
            {
              "data": {"name": "madev"},
              "mark": {"type": "circle", "color": "#000", "size": 130, "opacity": 1},
              "encoding": {
                "x": {"field": "x", "type": "quantitative", "scale": {"domain": [2, 6], "nice": false, "zero": false},
                  "axis": {"orient": "bottom", "values": [2,2.5,3,3.5,4,4.5,5,5.5,6], "format": "d", "labelExpr": "datum.value % 1 === 0 ? datum.label : ''", "tickSize": {"condition": {"test": "datum.value % 1 === 0", "value": 13}, "value": 7}, "labelPadding": 4, "title": "Averaging time, log(τ) (s)", "titlePadding": 2}},
                "y": {"field": "y", "type": "quantitative", "scale": {"domain": [-15.5, -11.5], "nice": false, "zero": false},
                  "axis": {"orient": "left", "values": [-15,-14,-13,-12], "format": "d", "labels": true, "tickSize": 13, "labelPadding": 13, "title": "Modified Allan Deviation (10⁻¹⁵)", "titlePadding": 5}}
              }
            },
            {
              "data": {"name": "madev"},
              "mark": {"type": "text", "color": "#ff0000", "fontWeight": "bold", "fontSize": 19, "align": "center", "baseline": "middle", "dy": -17},
              "encoding": {
                "x": {"field": "x", "type": "quantitative",
                  "axis": {"orient": "top", "values": [2,2.5,3,3.5,4,4.5,5,5.5,6], "labels": false, "tickSize": {"condition": {"test": "datum.value % 1 === 0", "value": 13}, "value": 7}, "title": null}},
                "y": {"field": "y", "type": "quantitative",
                  "axis": {"orient": "right", "values": [-15.5,-15,-14.5,-14,-13.5,-13,-12.5,-12,-11.5], "labels": false, "tickSize": 13, "title": null}},
                "text": {"field": "lab"}
              }
            },
            {
              "data": {"name": "tau"},
              "mark": {"type": "text", "color": "#000", "fontSize": 18, "align": "left", "baseline": "middle"},
              "encoding": {
                "x": {"field": "tx", "type": "quantitative", "axis": null},
                "y": {"field": "ty", "type": "quantitative",
                  "axis": {"orient": "left", "values": [-15.5,-14.5,-13.5,-12.5,-11.5], "labels": false, "domain": false, "tickSize": 7, "title": null}},
                "text": {"field": "s"}
              }
            },
            {
              "data": {"name": "marks"},
              "mark": {"type": "circle", "color": "#000", "size": 55, "opacity": 1, "clip": true},
              "encoding": {
                "x": {"field": "x", "type": "quantitative", "axis": null},
                "y": {"datum": -15.5, "type": "quantitative", "axis": null}
              }
            },
            {
              "data": {"name": "marks"},
              "mark": {"type": "text", "color": "#ff0000", "fontWeight": "bold", "fontSize": 19, "align": "center", "baseline": "middle", "dy": -15},
              "encoding": {
                "x": {"field": "x", "type": "quantitative", "axis": null},
                "y": {"datum": -15.5, "type": "quantitative", "axis": null},
                "text": {"field": "lab"}
              }
            }
          ]
        },
        {
          "width": 540,
          "height": 450,
          "resolve": {"axis": {"x": "independent", "y": "independent"}},
          "layer": [
            {
              "data": {"name": "tdev"},
              "mark": {"type": "circle", "color": "#000", "size": 130, "opacity": 1},
              "encoding": {
                "x": {"field": "x", "type": "quantitative", "scale": {"domain": [1.75, 6], "nice": false, "zero": false},
                  "axis": {"orient": "bottom", "values": [2,2.5,3,3.5,4,4.5,5,5.5,6], "format": "d", "labelExpr": "datum.value % 1 === 0 ? datum.label : ''", "tickSize": {"condition": {"test": "datum.value % 1 === 0", "value": 13}, "value": 7}, "labelPadding": 4, "title": "Averaging time, log(τ) (s)", "titlePadding": 2}},
                "y": {"field": "y", "type": "quantitative", "scale": {"domain": [-10, -7.5], "nice": false, "zero": false},
                  "axis": {"orient": "left", "values": [-10,-9.5,-9,-8.5,-8,-7.5], "format": "d", "labelExpr": "datum.value % 1 === 0 ? datum.label : ''", "tickSize": {"condition": {"test": "datum.value % 1 === 0", "value": 13}, "value": 7}, "labelPadding": 13, "title": "Time deviation (10⁻¹⁰ s)", "titlePadding": -2}}
              }
            },
            {
              "data": {"name": "tdev"},
              "mark": {"type": "text", "color": "#ff0000", "fontWeight": "bold", "fontSize": 19, "align": "center", "baseline": "middle", "dy": -24},
              "encoding": {
                "x": {"field": "x", "type": "quantitative",
                  "axis": {"orient": "top", "values": [2,2.5,3,3.5,4,4.5,5,5.5,6], "labels": false, "tickSize": {"condition": {"test": "datum.value % 1 === 0", "value": 13}, "value": 7}, "title": null}},
                "y": {"field": "y", "type": "quantitative",
                  "axis": {"orient": "right", "values": [-10,-9.5,-9,-8.5,-8,-7.5], "labels": false, "tickSize": 13, "title": null}},
                "text": {"field": "lab"}
              }
            },
            {
              "data": {"name": "marks"},
              "mark": {"type": "circle", "color": "#000", "size": 110, "opacity": 1, "clip": true},
              "encoding": {
                "x": {"field": "x", "type": "quantitative", "axis": null},
                "y": {"datum": -9.99, "type": "quantitative", "axis": null}
              }
            },
            {
              "data": {"name": "marks"},
              "mark": {"type": "text", "color": "#ff0000", "fontWeight": "bold", "fontSize": 19, "align": "center", "baseline": "middle", "dy": -22},
              "encoding": {
                "x": {"field": "x", "type": "quantitative", "axis": null},
                "y": {"datum": -9.99, "type": "quantitative", "axis": null},
                "text": {"field": "lab"}
              }
            }
          ]
        }
      ],
      "spacing": 150,
      "bounds": "flush"
    }
  ]
}
